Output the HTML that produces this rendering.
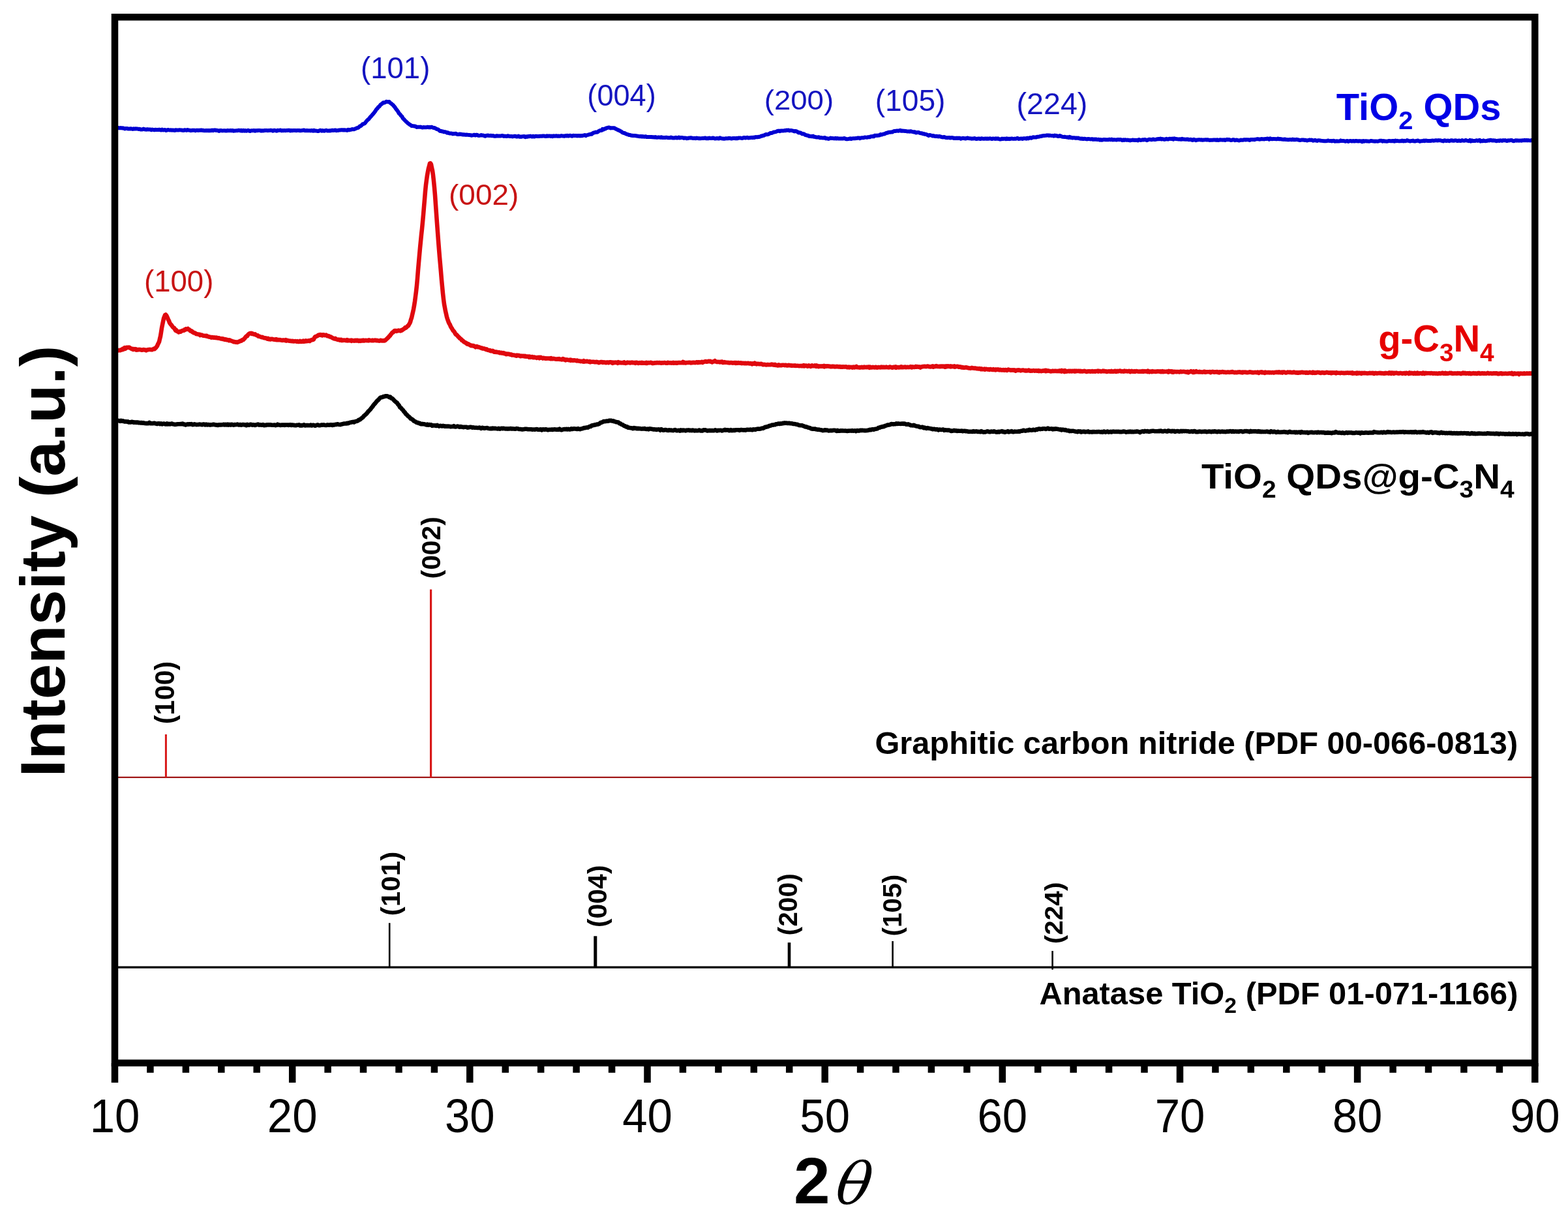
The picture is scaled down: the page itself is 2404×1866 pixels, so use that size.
<!DOCTYPE html>
<html><head><meta charset="utf-8"><title>XRD patterns</title>
<style>
html,body{margin:0;padding:0;background:#fff;}
body{width:2404px;height:1866px;overflow:hidden;}
svg{display:block;}
text{font-family:"Liberation Sans",Arial,sans-serif;}
</style></head>
<body>
<svg width="2404" height="1866" viewBox="0 0 2404 1866">
<rect width="2404" height="1866" fill="#fff"/>

<!-- data curves -->
<path d="M181.0,196.0 L182.5,196.2 L184.0,196.2 L185.5,196.1 L187.0,196.4 L188.5,196.3 L190.0,196.8 L191.5,197.4 L193.0,196.9 L194.5,196.9 L196.0,197.4 L197.5,197.5 L199.0,197.5 L200.5,197.2 L202.0,197.6 L203.5,197.9 L205.0,197.3 L206.5,197.7 L208.0,197.3 L209.5,197.6 L211.0,197.4 L212.5,198.1 L214.0,197.8 L215.5,198.4 L217.0,198.4 L218.5,198.4 L220.0,197.6 L221.5,198.3 L223.0,198.6 L224.5,198.7 L226.0,198.2 L227.5,198.6 L229.0,198.4 L230.5,198.5 L232.0,199.2 L233.5,198.6 L235.0,198.9 L236.5,199.3 L238.0,198.8 L239.5,199.0 L241.0,199.1 L242.5,199.1 L244.0,198.7 L245.5,199.2 L247.0,199.6 L248.5,198.6 L250.0,199.5 L251.5,199.3 L253.0,199.0 L254.5,200.0 L256.0,199.6 L257.5,198.9 L259.0,199.4 L260.5,199.6 L262.0,199.3 L263.5,199.7 L265.0,199.4 L266.5,199.7 L268.0,200.0 L269.5,199.3 L271.0,199.6 L272.5,199.4 L274.0,199.6 L275.5,199.2 L277.0,199.4 L278.5,199.5 L280.0,199.9 L281.5,200.0 L283.0,199.2 L284.5,199.4 L286.0,199.9 L287.5,199.0 L289.0,199.6 L290.6,199.7 L292.1,200.2 L293.6,200.0 L295.1,199.7 L296.6,199.7 L298.1,199.7 L299.6,200.4 L301.1,199.7 L302.6,199.7 L304.1,200.0 L305.6,199.8 L307.1,199.8 L308.6,199.5 L310.1,199.9 L311.6,199.8 L313.1,200.3 L314.6,200.2 L316.1,200.0 L317.6,200.2 L319.1,199.9 L320.6,200.4 L322.1,200.0 L323.6,200.2 L325.1,199.6 L326.6,200.2 L328.1,199.5 L329.6,199.4 L331.1,200.0 L332.6,199.8 L334.1,200.2 L335.6,200.9 L337.1,199.9 L338.6,200.0 L340.1,200.3 L341.6,200.4 L343.1,200.2 L344.6,200.2 L346.1,200.5 L347.6,200.5 L349.1,199.9 L350.6,200.3 L352.1,200.3 L353.6,200.0 L355.1,200.4 L356.6,200.0 L358.1,200.7 L359.6,200.4 L361.1,200.4 L362.6,200.2 L364.1,200.3 L365.6,199.7 L367.1,200.0 L368.6,200.5 L370.1,199.7 L371.6,200.7 L373.1,199.8 L374.6,200.7 L376.1,200.1 L377.6,200.7 L379.1,200.4 L380.6,199.8 L382.1,200.8 L383.6,200.9 L385.1,200.3 L386.6,200.3 L388.1,200.3 L389.6,200.0 L391.1,200.7 L392.6,200.1 L394.1,200.3 L395.6,200.0 L397.1,200.1 L398.6,199.9 L400.1,200.7 L401.6,200.2 L403.1,200.6 L404.6,200.3 L406.1,200.0 L407.6,200.1 L409.1,200.1 L410.6,200.2 L412.1,200.1 L413.6,200.1 L415.1,199.7 L416.6,199.9 L418.1,200.8 L419.6,200.0 L421.1,199.8 L422.6,200.3 L424.1,200.7 L425.6,199.7 L427.1,200.1 L428.6,199.9 L430.1,199.5 L431.6,200.4 L433.1,200.1 L434.6,200.2 L436.1,199.9 L437.6,200.3 L439.1,199.9 L440.6,200.0 L442.1,199.7 L443.6,199.7 L445.1,200.5 L446.6,199.9 L448.1,200.2 L449.6,200.0 L451.1,199.9 L452.6,199.9 L454.1,200.3 L455.6,199.9 L457.1,200.0 L458.6,200.0 L460.1,200.4 L461.6,200.2 L463.1,200.1 L464.6,199.8 L466.1,199.5 L467.6,200.3 L469.1,200.3 L470.6,200.0 L472.1,200.2 L473.6,200.3 L475.1,200.3 L476.6,200.4 L478.1,199.9 L479.6,200.7 L481.1,199.7 L482.6,200.5 L484.1,200.4 L485.6,200.6 L487.1,201.0 L488.6,200.9 L490.1,200.0 L491.6,199.8 L493.1,200.7 L494.6,200.1 L496.1,200.5 L497.6,200.8 L499.1,199.9 L500.6,199.8 L502.1,200.6 L503.6,200.5 L505.1,200.3 L506.7,200.4 L508.2,200.0 L509.7,199.7 L511.2,200.1 L512.7,199.8 L514.2,199.5 L515.7,200.2 L517.2,199.9 L518.7,200.0 L520.2,199.4 L521.7,199.5 L523.2,199.3 L524.7,199.3 L526.2,199.6 L527.7,199.2 L529.2,199.5 L530.7,199.5 L532.2,200.0 L533.7,198.7 L535.2,199.4 L536.7,198.9 L538.2,198.8 L539.7,198.1 L541.2,198.2 L542.7,198.3 L544.2,197.6 L545.7,197.0 L547.2,196.3 L548.7,196.1 L550.2,195.0 L551.7,193.5 L553.2,193.1 L554.7,191.7 L556.2,190.2 L557.7,189.9 L559.2,189.2 L560.7,187.3 L562.2,185.3 L563.7,183.8 L565.2,182.8 L566.7,180.8 L568.2,179.1 L569.7,177.4 L571.2,175.6 L572.7,174.0 L574.2,172.0 L575.7,169.9 L577.2,167.5 L578.7,166.2 L580.2,164.0 L581.7,163.1 L583.2,160.8 L584.7,159.8 L586.2,158.6 L587.7,157.2 L589.2,157.6 L590.7,156.9 L592.2,155.8 L593.7,156.1 L595.2,156.3 L596.7,155.9 L598.2,157.7 L599.7,158.6 L601.2,160.0 L602.7,161.2 L604.2,163.1 L605.7,164.8 L607.2,167.2 L608.7,169.0 L610.2,171.0 L611.7,173.7 L613.2,175.1 L614.7,177.2 L616.2,178.5 L617.7,181.3 L619.2,182.8 L620.7,184.5 L622.2,186.0 L623.7,187.4 L625.2,188.8 L626.7,189.9 L628.2,191.0 L629.7,191.9 L631.2,193.0 L632.7,193.1 L634.2,193.3 L635.7,193.5 L637.2,193.8 L638.7,194.9 L640.2,194.8 L641.7,194.8 L643.2,194.8 L644.7,194.6 L646.2,195.1 L647.7,195.5 L649.2,195.1 L650.7,195.2 L652.2,195.2 L653.7,195.3 L655.2,194.7 L656.7,195.2 L658.2,194.9 L659.7,195.4 L661.2,194.7 L662.7,195.2 L664.2,195.9 L665.7,195.9 L667.2,196.5 L668.7,197.5 L670.2,198.1 L671.7,198.4 L673.2,199.7 L674.7,201.0 L676.2,200.9 L677.7,201.5 L679.2,201.6 L680.7,202.4 L682.2,202.2 L683.7,202.6 L685.2,203.7 L686.7,203.2 L688.2,204.2 L689.7,204.6 L691.2,204.4 L692.7,204.7 L694.2,205.4 L695.7,204.9 L697.2,204.9 L698.7,204.8 L700.2,205.5 L701.7,206.1 L703.2,206.1 L704.7,205.6 L706.2,205.7 L707.7,206.0 L709.2,206.4 L710.7,206.3 L712.2,206.5 L713.7,206.7 L715.2,206.6 L716.7,206.7 L718.2,206.9 L719.7,206.9 L721.2,207.2 L722.8,207.7 L724.3,207.4 L725.8,207.2 L727.3,206.7 L728.8,207.5 L730.3,206.7 L731.8,207.0 L733.3,207.8 L734.8,207.9 L736.3,207.6 L737.8,207.1 L739.3,207.6 L740.8,207.6 L742.3,208.1 L743.8,208.7 L745.3,208.0 L746.8,207.7 L748.3,207.6 L749.8,208.1 L751.3,208.1 L752.8,207.8 L754.3,208.3 L755.8,207.9 L757.3,208.7 L758.8,208.7 L760.3,208.7 L761.8,208.2 L763.3,208.6 L764.8,208.4 L766.3,208.4 L767.8,208.4 L769.3,208.1 L770.8,208.1 L772.3,208.9 L773.8,208.6 L775.3,208.8 L776.8,209.1 L778.3,208.2 L779.8,208.6 L781.3,209.0 L782.8,209.1 L784.3,208.9 L785.8,209.4 L787.3,209.1 L788.8,208.7 L790.3,208.8 L791.8,209.5 L793.3,209.4 L794.8,208.6 L796.3,209.7 L797.8,209.5 L799.3,209.8 L800.8,209.2 L802.3,209.2 L803.8,208.9 L805.3,210.2 L806.8,209.2 L808.3,209.8 L809.8,209.0 L811.3,209.3 L812.8,208.6 L814.3,209.1 L815.8,209.5 L817.3,208.7 L818.8,209.5 L820.3,209.2 L821.8,208.7 L823.3,208.9 L824.8,208.9 L826.3,209.0 L827.8,208.8 L829.3,208.7 L830.8,208.8 L832.3,208.5 L833.8,208.4 L835.3,208.8 L836.8,209.1 L838.3,208.2 L839.8,208.8 L841.3,208.5 L842.8,208.4 L844.3,209.0 L845.8,208.5 L847.3,209.2 L848.8,208.3 L850.3,208.7 L851.8,208.5 L853.3,208.3 L854.8,208.8 L856.3,208.5 L857.8,208.7 L859.3,208.5 L860.8,208.1 L862.3,208.4 L863.8,208.5 L865.3,208.8 L866.8,208.1 L868.3,208.4 L869.8,207.8 L871.3,208.6 L872.8,208.0 L874.3,207.8 L875.8,208.4 L877.3,208.7 L878.8,207.8 L880.3,207.9 L881.8,208.0 L883.3,207.9 L884.8,208.4 L886.3,208.0 L887.8,208.0 L889.3,208.4 L890.8,207.9 L892.3,208.3 L893.8,207.7 L895.3,207.5 L896.8,207.1 L898.3,208.1 L899.8,207.1 L901.3,206.9 L902.8,206.4 L904.3,206.0 L905.8,205.5 L907.3,205.7 L908.8,204.2 L910.3,203.5 L911.8,203.2 L913.3,202.6 L914.8,202.8 L916.3,202.3 L917.8,201.1 L919.3,200.3 L920.8,200.0 L922.3,200.0 L923.8,197.9 L925.3,198.6 L926.8,197.4 L928.3,197.6 L929.8,196.3 L931.3,196.1 L932.8,195.4 L934.3,195.5 L935.8,196.4 L937.3,196.3 L938.8,196.2 L940.4,196.3 L941.9,196.3 L943.4,197.3 L944.9,198.0 L946.4,198.7 L947.9,199.5 L949.4,199.9 L950.9,200.9 L952.4,201.7 L953.9,202.9 L955.4,203.8 L956.9,203.9 L958.4,204.4 L959.9,205.4 L961.4,205.8 L962.9,206.3 L964.4,206.9 L965.9,206.9 L967.4,207.7 L968.9,207.7 L970.4,208.0 L971.9,208.1 L973.4,208.1 L974.9,208.2 L976.4,208.6 L977.9,208.7 L979.4,209.1 L980.9,209.2 L982.4,208.9 L983.9,209.5 L985.4,209.1 L986.9,209.5 L988.4,209.7 L989.9,209.2 L991.4,210.0 L992.9,210.1 L994.4,210.1 L995.9,210.0 L997.4,210.1 L998.9,210.0 L1000.4,210.3 L1001.9,210.2 L1003.4,210.5 L1004.9,210.1 L1006.4,210.7 L1007.9,210.7 L1009.4,210.6 L1010.9,210.6 L1012.4,210.9 L1013.9,210.2 L1015.4,211.0 L1016.9,211.0 L1018.4,211.0 L1019.9,211.1 L1021.4,210.7 L1022.9,210.9 L1024.4,211.3 L1025.9,211.2 L1027.4,211.2 L1028.9,210.6 L1030.4,211.3 L1031.9,211.6 L1033.4,211.6 L1034.9,211.3 L1036.4,210.7 L1037.9,211.6 L1039.4,211.3 L1040.9,210.5 L1042.4,211.5 L1043.9,210.9 L1045.4,211.0 L1046.9,211.2 L1048.4,211.9 L1049.9,211.4 L1051.4,211.6 L1052.9,212.2 L1054.4,212.1 L1055.9,211.6 L1057.4,211.6 L1058.9,211.2 L1060.4,211.5 L1061.9,211.9 L1063.4,211.9 L1064.9,211.8 L1066.4,212.2 L1067.9,211.6 L1069.4,211.8 L1070.9,212.2 L1072.4,212.1 L1073.9,212.3 L1075.4,212.1 L1076.9,211.9 L1078.4,212.1 L1079.9,211.7 L1081.4,211.5 L1082.9,212.3 L1084.4,212.1 L1085.9,212.2 L1087.4,211.5 L1088.9,212.0 L1090.4,212.0 L1091.9,211.9 L1093.4,211.4 L1094.9,212.1 L1096.4,212.5 L1097.9,212.3 L1099.4,212.0 L1100.9,212.2 L1102.4,212.5 L1103.9,211.2 L1105.4,212.1 L1106.9,212.4 L1108.4,212.4 L1109.9,212.7 L1111.4,212.5 L1112.9,212.2 L1114.4,212.2 L1115.9,212.3 L1117.4,211.8 L1118.9,212.0 L1120.4,212.3 L1121.9,212.6 L1123.4,211.9 L1124.9,211.9 L1126.4,211.9 L1127.9,212.3 L1129.4,211.8 L1130.9,212.3 L1132.4,211.4 L1133.9,211.6 L1135.4,211.6 L1136.9,211.9 L1138.4,211.9 L1139.9,211.0 L1141.4,211.1 L1142.9,211.5 L1144.4,211.1 L1145.9,210.8 L1147.4,211.6 L1148.9,211.3 L1150.4,211.2 L1151.9,210.8 L1153.4,211.2 L1154.9,210.7 L1156.5,211.0 L1158.0,210.2 L1159.5,210.1 L1161.0,210.3 L1162.5,209.8 L1164.0,210.0 L1165.5,209.5 L1167.0,208.6 L1168.5,208.5 L1170.0,207.8 L1171.5,207.7 L1173.0,206.6 L1174.5,206.1 L1176.0,206.2 L1177.5,206.0 L1179.0,205.4 L1180.5,204.3 L1182.0,204.0 L1183.5,204.0 L1185.0,203.1 L1186.5,202.4 L1188.0,202.4 L1189.5,202.1 L1191.0,201.4 L1192.5,200.8 L1194.0,200.6 L1195.5,201.2 L1197.0,200.5 L1198.5,200.5 L1200.0,200.5 L1201.5,200.5 L1203.0,200.0 L1204.5,200.2 L1206.0,199.6 L1207.5,199.8 L1209.0,199.5 L1210.5,200.4 L1212.0,200.1 L1213.5,200.1 L1215.0,200.4 L1216.5,200.8 L1218.0,201.4 L1219.5,200.9 L1221.0,201.4 L1222.5,202.0 L1224.0,203.4 L1225.5,203.3 L1227.0,203.4 L1228.5,204.3 L1230.0,205.4 L1231.5,205.2 L1233.0,205.7 L1234.5,206.9 L1236.0,207.2 L1237.5,207.7 L1239.0,207.7 L1240.5,208.9 L1242.0,209.1 L1243.5,209.0 L1245.0,209.3 L1246.5,208.6 L1248.0,209.8 L1249.5,209.8 L1251.0,210.3 L1252.5,210.6 L1254.0,210.5 L1255.5,210.2 L1257.0,211.2 L1258.5,211.0 L1260.0,211.3 L1261.5,211.4 L1263.0,211.6 L1264.5,211.0 L1266.0,212.4 L1267.5,212.1 L1269.0,212.5 L1270.5,212.9 L1272.0,212.2 L1273.5,211.6 L1275.0,212.0 L1276.5,211.9 L1278.0,212.2 L1279.5,212.4 L1281.0,211.7 L1282.5,212.6 L1284.0,211.9 L1285.5,212.6 L1287.0,212.5 L1288.5,212.4 L1290.0,212.5 L1291.5,212.4 L1293.0,212.4 L1294.5,212.0 L1296.0,212.6 L1297.5,213.2 L1299.0,213.3 L1300.5,213.1 L1302.0,212.8 L1303.5,212.3 L1305.0,213.0 L1306.5,212.4 L1308.0,212.3 L1309.5,212.2 L1311.0,212.2 L1312.5,211.9 L1314.0,211.9 L1315.5,211.4 L1317.0,211.5 L1318.5,212.3 L1320.0,211.4 L1321.5,211.2 L1323.0,211.3 L1324.5,211.2 L1326.0,210.4 L1327.5,210.6 L1329.0,210.8 L1330.5,210.3 L1332.0,210.1 L1333.5,210.3 L1335.0,209.3 L1336.5,209.3 L1338.0,208.9 L1339.5,209.3 L1341.0,207.8 L1342.5,208.0 L1344.0,207.7 L1345.5,207.9 L1347.0,207.5 L1348.5,207.5 L1350.0,206.1 L1351.5,206.6 L1353.0,206.0 L1354.5,205.5 L1356.0,205.5 L1357.5,204.6 L1359.0,203.7 L1360.5,203.8 L1362.0,203.0 L1363.5,202.8 L1365.0,202.8 L1366.5,202.4 L1368.0,202.5 L1369.5,201.7 L1371.0,200.9 L1372.5,201.0 L1374.1,200.7 L1375.6,200.4 L1377.1,200.8 L1378.6,200.3 L1380.1,199.8 L1381.6,200.8 L1383.1,200.5 L1384.6,200.8 L1386.1,200.8 L1387.6,201.1 L1389.1,201.0 L1390.6,201.5 L1392.1,201.4 L1393.6,201.5 L1395.1,201.7 L1396.6,201.2 L1398.1,201.9 L1399.6,202.1 L1401.1,202.5 L1402.6,202.2 L1404.1,203.5 L1405.6,203.2 L1407.1,203.0 L1408.6,203.1 L1410.1,203.9 L1411.6,204.2 L1413.1,204.3 L1414.6,205.0 L1416.1,205.0 L1417.6,205.8 L1419.1,205.7 L1420.6,206.3 L1422.1,207.0 L1423.6,207.9 L1425.1,206.9 L1426.6,207.4 L1428.1,207.6 L1429.6,208.5 L1431.1,208.1 L1432.6,208.6 L1434.1,209.0 L1435.6,208.8 L1437.1,209.0 L1438.6,209.4 L1440.1,209.0 L1441.6,209.4 L1443.1,209.9 L1444.6,210.3 L1446.1,210.4 L1447.6,210.0 L1449.1,210.6 L1450.6,211.1 L1452.1,211.2 L1453.6,211.1 L1455.1,210.9 L1456.6,211.5 L1458.1,211.2 L1459.6,211.1 L1461.1,211.3 L1462.6,212.1 L1464.1,211.7 L1465.6,212.1 L1467.1,211.6 L1468.6,212.1 L1470.1,211.6 L1471.6,211.8 L1473.1,212.8 L1474.6,212.2 L1476.1,211.8 L1477.6,212.0 L1479.1,212.2 L1480.6,212.5 L1482.1,211.9 L1483.6,211.5 L1485.1,212.1 L1486.6,212.2 L1488.1,212.3 L1489.6,212.7 L1491.1,212.4 L1492.6,212.6 L1494.1,211.9 L1495.6,212.6 L1497.1,213.1 L1498.6,212.7 L1500.1,212.5 L1501.6,212.5 L1503.1,213.1 L1504.6,212.2 L1506.1,212.5 L1507.6,212.7 L1509.1,212.8 L1510.6,212.4 L1512.1,212.7 L1513.6,212.5 L1515.1,212.7 L1516.6,212.6 L1518.1,212.3 L1519.6,212.7 L1521.1,213.0 L1522.6,212.4 L1524.1,212.6 L1525.6,212.9 L1527.1,212.3 L1528.6,212.8 L1530.1,212.3 L1531.6,213.1 L1533.1,213.5 L1534.6,213.4 L1536.1,212.6 L1537.6,213.0 L1539.1,212.8 L1540.6,212.7 L1542.1,213.2 L1543.6,212.2 L1545.1,213.1 L1546.6,212.7 L1548.1,213.2 L1549.6,212.7 L1551.1,212.4 L1552.6,212.7 L1554.1,212.9 L1555.6,212.6 L1557.1,212.8 L1558.6,212.4 L1560.1,211.8 L1561.6,212.9 L1563.1,212.8 L1564.6,212.6 L1566.1,212.5 L1567.6,212.9 L1569.1,212.3 L1570.6,212.2 L1572.1,212.3 L1573.6,212.7 L1575.1,211.6 L1576.6,212.4 L1578.1,211.5 L1579.6,211.1 L1581.1,211.7 L1582.6,211.0 L1584.1,210.3 L1585.6,210.4 L1587.1,210.6 L1588.6,210.5 L1590.2,209.7 L1591.7,209.8 L1593.2,209.6 L1594.7,208.9 L1596.2,208.9 L1597.7,208.5 L1599.2,208.1 L1600.7,207.9 L1602.2,207.9 L1603.7,207.7 L1605.2,207.4 L1606.7,207.4 L1608.2,207.9 L1609.7,207.6 L1611.2,207.9 L1612.7,208.1 L1614.2,207.9 L1615.7,208.6 L1617.2,207.6 L1618.7,208.3 L1620.2,208.0 L1621.7,208.9 L1623.2,209.0 L1624.7,208.0 L1626.2,208.6 L1627.7,209.4 L1629.2,209.7 L1630.7,209.9 L1632.2,209.8 L1633.7,210.1 L1635.2,210.4 L1636.7,210.3 L1638.2,210.9 L1639.7,209.9 L1641.2,211.1 L1642.7,210.7 L1644.2,211.6 L1645.7,211.3 L1647.2,211.2 L1648.7,211.8 L1650.2,211.5 L1651.7,211.7 L1653.2,211.6 L1654.7,212.2 L1656.2,212.5 L1657.7,212.8 L1659.2,212.5 L1660.7,213.1 L1662.2,212.8 L1663.7,212.8 L1665.2,213.2 L1666.7,213.4 L1668.2,213.0 L1669.7,213.1 L1671.2,213.3 L1672.7,213.4 L1674.2,213.1 L1675.7,213.9 L1677.2,213.5 L1678.7,213.8 L1680.2,213.5 L1681.7,213.9 L1683.2,214.0 L1684.7,213.8 L1686.2,214.7 L1687.7,214.1 L1689.2,214.7 L1690.7,214.4 L1692.2,213.9 L1693.7,214.0 L1695.2,214.3 L1696.7,214.2 L1698.2,214.3 L1699.7,214.2 L1701.2,213.7 L1702.7,214.3 L1704.2,213.6 L1705.7,214.5 L1707.2,214.2 L1708.7,214.2 L1710.2,214.4 L1711.7,214.6 L1713.2,214.0 L1714.7,214.0 L1716.2,214.2 L1717.7,213.9 L1719.2,214.3 L1720.7,215.2 L1722.2,214.3 L1723.7,214.9 L1725.2,214.2 L1726.7,214.8 L1728.2,214.6 L1729.7,214.7 L1731.2,215.0 L1732.7,215.4 L1734.2,214.9 L1735.7,214.8 L1737.2,214.5 L1738.7,215.0 L1740.2,214.7 L1741.7,215.1 L1743.2,214.8 L1744.7,215.4 L1746.2,214.0 L1747.7,214.6 L1749.2,215.0 L1750.7,214.5 L1752.2,214.3 L1753.7,214.4 L1755.2,214.0 L1756.7,214.4 L1758.2,215.2 L1759.7,214.7 L1761.2,213.8 L1762.7,213.8 L1764.2,213.9 L1765.7,214.3 L1767.2,213.6 L1768.7,213.6 L1770.2,214.1 L1771.7,214.0 L1773.2,213.5 L1774.7,213.2 L1776.2,213.0 L1777.7,213.2 L1779.2,212.6 L1780.7,213.6 L1782.2,213.1 L1783.7,213.4 L1785.2,213.9 L1786.7,213.6 L1788.2,212.7 L1789.7,213.4 L1791.2,213.5 L1792.7,212.8 L1794.2,212.8 L1795.7,213.1 L1797.2,212.6 L1798.7,213.7 L1800.2,212.3 L1801.7,212.8 L1803.2,213.1 L1804.7,213.2 L1806.2,213.4 L1807.8,213.4 L1809.3,213.3 L1810.8,213.8 L1812.3,212.7 L1813.8,213.6 L1815.3,213.4 L1816.8,213.7 L1818.3,213.8 L1819.8,213.5 L1821.3,213.6 L1822.8,214.2 L1824.3,214.1 L1825.8,213.8 L1827.3,214.8 L1828.8,214.9 L1830.3,213.7 L1831.8,214.3 L1833.3,215.2 L1834.8,214.6 L1836.3,214.5 L1837.8,214.3 L1839.3,214.3 L1840.8,214.4 L1842.3,214.3 L1843.8,214.8 L1845.3,214.4 L1846.8,214.4 L1848.3,214.2 L1849.8,214.6 L1851.3,214.3 L1852.8,214.5 L1854.3,215.0 L1855.8,214.7 L1857.3,214.8 L1858.8,214.7 L1860.3,214.6 L1861.8,214.6 L1863.3,214.5 L1864.8,214.9 L1866.3,214.2 L1867.8,215.1 L1869.3,214.6 L1870.8,214.3 L1872.3,214.4 L1873.8,214.4 L1875.3,214.7 L1876.8,214.3 L1878.3,215.0 L1879.8,214.3 L1881.3,213.8 L1882.8,214.3 L1884.3,213.9 L1885.8,214.6 L1887.3,215.0 L1888.8,214.8 L1890.3,214.1 L1891.8,214.3 L1893.3,215.2 L1894.8,214.7 L1896.3,214.6 L1897.8,215.0 L1899.3,215.5 L1900.8,215.1 L1902.3,214.6 L1903.8,214.7 L1905.3,214.8 L1906.8,214.3 L1908.3,214.1 L1909.8,214.5 L1911.3,214.1 L1912.8,214.3 L1914.3,214.3 L1915.8,215.0 L1917.3,213.9 L1918.8,214.0 L1920.3,214.0 L1921.8,214.1 L1923.3,214.2 L1924.8,213.6 L1926.3,213.4 L1927.8,213.1 L1929.3,213.3 L1930.8,213.7 L1932.3,213.5 L1933.8,213.0 L1935.3,213.2 L1936.8,213.3 L1938.3,213.4 L1939.8,213.0 L1941.3,213.1 L1942.8,212.5 L1944.3,212.7 L1945.8,213.7 L1947.3,212.3 L1948.8,213.0 L1950.3,213.2 L1951.8,213.0 L1953.3,212.9 L1954.8,213.1 L1956.3,213.2 L1957.8,213.2 L1959.3,212.6 L1960.8,213.2 L1962.3,213.0 L1963.8,213.2 L1965.3,213.5 L1966.8,213.7 L1968.3,213.9 L1969.8,213.4 L1971.3,214.0 L1972.8,214.1 L1974.3,214.2 L1975.8,214.3 L1977.3,213.9 L1978.8,213.9 L1980.3,214.3 L1981.8,213.6 L1983.3,214.2 L1984.8,214.1 L1986.3,214.2 L1987.8,213.8 L1989.3,214.1 L1990.8,214.5 L1992.3,214.9 L1993.8,214.9 L1995.3,214.6 L1996.8,214.6 L1998.3,214.5 L1999.8,214.9 L2001.3,214.8 L2002.8,215.1 L2004.3,215.5 L2005.8,215.0 L2007.3,214.5 L2008.8,214.8 L2010.3,214.6 L2011.8,214.7 L2013.3,215.7 L2014.8,215.3 L2016.3,214.8 L2017.8,215.6 L2019.3,215.9 L2020.8,215.3 L2022.3,215.3 L2023.9,215.4 L2025.4,215.7 L2026.9,215.9 L2028.4,216.1 L2029.9,216.2 L2031.4,216.2 L2032.9,216.3 L2034.4,216.1 L2035.9,215.4 L2037.4,215.9 L2038.9,216.1 L2040.4,215.9 L2041.9,216.4 L2043.4,216.0 L2044.9,215.8 L2046.4,216.7 L2047.9,216.4 L2049.4,216.3 L2050.9,216.6 L2052.4,216.6 L2053.9,216.4 L2055.4,215.4 L2056.9,216.1 L2058.4,216.1 L2059.9,216.0 L2061.4,216.4 L2062.9,216.7 L2064.4,216.1 L2065.9,215.9 L2067.4,217.0 L2068.9,216.1 L2070.4,215.9 L2071.9,216.4 L2073.4,216.4 L2074.9,216.0 L2076.4,216.6 L2077.9,216.1 L2079.4,216.0 L2080.9,216.3 L2082.4,216.6 L2083.9,216.1 L2085.4,216.4 L2086.9,216.2 L2088.4,217.3 L2089.9,216.0 L2091.4,216.8 L2092.9,216.2 L2094.4,216.2 L2095.9,216.5 L2097.4,216.6 L2098.9,216.7 L2100.4,216.4 L2101.9,216.0 L2103.4,216.1 L2104.9,216.4 L2106.4,216.4 L2107.9,216.7 L2109.4,216.4 L2110.9,216.6 L2112.4,216.7 L2113.9,216.3 L2115.4,215.7 L2116.9,215.8 L2118.4,215.7 L2119.9,216.8 L2121.4,215.9 L2122.9,216.6 L2124.4,216.4 L2125.9,216.8 L2127.4,216.5 L2128.9,216.1 L2130.4,216.1 L2131.9,216.2 L2133.4,216.2 L2134.9,216.0 L2136.4,216.1 L2137.9,216.7 L2139.4,215.5 L2140.9,216.2 L2142.4,215.8 L2143.9,216.2 L2145.4,216.4 L2146.9,216.1 L2148.4,216.3 L2149.9,215.5 L2151.4,216.4 L2152.9,215.8 L2154.4,216.3 L2155.9,216.1 L2157.4,215.1 L2158.9,215.8 L2160.4,216.1 L2161.9,216.5 L2163.4,216.1 L2164.9,216.1 L2166.4,215.5 L2167.9,216.5 L2169.4,216.6 L2170.9,216.0 L2172.4,215.9 L2173.9,215.4 L2175.4,216.2 L2176.9,216.9 L2178.4,216.2 L2179.9,216.3 L2181.4,216.1 L2182.9,215.5 L2184.4,216.3 L2185.9,215.4 L2187.4,215.8 L2188.9,215.9 L2190.4,216.1 L2191.9,216.0 L2193.4,216.0 L2194.9,215.6 L2196.4,215.4 L2197.9,215.8 L2199.4,215.6 L2200.9,215.3 L2202.4,215.3 L2203.9,215.6 L2205.4,215.1 L2206.9,215.3 L2208.4,215.2 L2209.9,215.8 L2211.4,215.9 L2212.9,216.5 L2214.4,215.2 L2215.9,215.5 L2217.4,216.1 L2218.9,215.7 L2220.4,215.6 L2221.9,216.3 L2223.4,215.6 L2224.9,215.3 L2226.4,215.3 L2227.9,215.8 L2229.4,215.8 L2230.9,215.2 L2232.4,215.4 L2233.9,215.9 L2235.4,215.9 L2236.9,215.5 L2238.4,215.9 L2240.0,215.9 L2241.5,215.1 L2243.0,215.6 L2244.5,215.8 L2246.0,215.5 L2247.5,214.9 L2249.0,215.6 L2250.5,215.9 L2252.0,216.2 L2253.5,214.9 L2255.0,216.6 L2256.5,215.3 L2258.0,216.0 L2259.5,216.1 L2261.0,216.0 L2262.5,215.7 L2264.0,215.2 L2265.5,215.9 L2267.0,215.4 L2268.5,214.7 L2270.0,216.6 L2271.5,215.9 L2273.0,216.3 L2274.5,215.3 L2276.0,216.1 L2277.5,216.2 L2279.0,216.1 L2280.5,215.6 L2282.0,215.2 L2283.5,215.5 L2285.0,214.8 L2286.5,215.0 L2288.0,215.6 L2289.5,215.2 L2291.0,215.5 L2292.5,215.5 L2294.0,216.2 L2295.5,216.0 L2297.0,215.5 L2298.5,216.0 L2300.0,215.3 L2301.5,215.4 L2303.0,215.9 L2304.5,215.1 L2306.0,215.4 L2307.5,215.1 L2309.0,215.6 L2310.5,216.1 L2312.0,215.2 L2313.5,215.6 L2315.0,215.2 L2316.5,215.1 L2318.0,215.1 L2319.5,216.0 L2321.0,216.3 L2322.5,215.6 L2324.0,215.2 L2325.5,215.7 L2327.0,215.3 L2328.5,215.7 L2330.0,215.6 L2331.5,215.5 L2333.0,215.7 L2334.5,215.2 L2336.0,215.3 L2337.5,214.8 L2339.0,215.3 L2340.5,214.9 L2342.0,215.4 L2343.5,215.1 L2345.0,215.4 L2346.5,215.6 L2348.0,214.9" fill="none" stroke="#0000d2" stroke-width="6.0" stroke-linejoin="round" stroke-linecap="round"/>
<path d="M181.0,537.3 L182.0,537.0 L183.0,537.3 L184.0,537.3 L185.0,536.7 L186.0,536.0 L187.0,536.3 L188.0,535.0 L189.0,535.7 L190.0,534.5 L191.0,533.3 L192.0,534.8 L193.0,534.0 L194.0,532.7 L195.0,532.9 L196.0,532.7 L197.0,532.9 L198.0,532.6 L199.0,533.2 L200.0,534.0 L201.0,534.3 L202.0,535.0 L203.0,534.8 L204.0,535.8 L205.0,535.0 L206.0,535.6 L207.0,535.0 L208.0,535.4 L209.0,536.5 L210.0,535.8 L211.0,536.4 L212.0,536.2 L213.0,535.9 L214.0,536.2 L215.0,536.1 L216.0,536.2 L217.0,536.6 L218.0,536.6 L219.0,536.2 L220.0,536.1 L221.0,536.5 L222.0,536.4 L223.0,536.8 L224.0,537.3 L225.0,536.7 L226.0,536.4 L227.0,536.3 L228.0,536.0 L229.0,536.0 L230.0,535.9 L231.0,536.1 L232.0,536.0 L233.0,536.3 L234.0,535.7 L235.0,535.4 L236.0,534.6 L237.0,535.1 L238.0,533.9 L239.0,533.3 L240.0,531.7 L241.0,530.4 L242.0,527.9 L243.0,526.1 L244.0,524.1 L245.0,519.6 L246.0,515.6 L247.0,509.5 L248.0,502.9 L249.0,497.9 L250.0,493.1 L251.0,488.3 L252.0,485.8 L253.0,483.1 L254.0,482.5 L255.0,483.5 L256.0,485.5 L257.0,487.6 L258.0,490.2 L259.0,491.9 L260.0,494.9 L261.0,496.3 L262.0,497.7 L263.0,498.7 L264.0,500.1 L265.0,501.5 L266.0,502.5 L267.0,502.8 L268.0,504.7 L269.0,506.5 L270.0,505.8 L271.0,507.7 L272.0,508.1 L273.0,508.5 L274.0,509.3 L275.0,508.3 L276.0,508.6 L277.0,508.7 L278.0,507.7 L279.0,507.2 L280.0,507.0 L281.0,506.5 L282.0,506.7 L283.0,505.4 L284.0,505.6 L285.0,504.4 L286.0,504.9 L287.0,504.6 L288.0,503.9 L289.0,505.2 L290.0,505.3 L291.0,506.2 L292.0,507.5 L293.0,507.1 L294.0,507.6 L295.0,509.1 L296.0,509.2 L297.0,510.3 L298.0,510.5 L299.0,510.6 L300.0,511.3 L301.0,512.1 L302.0,512.3 L303.0,512.3 L304.0,512.6 L305.0,512.8 L306.0,512.9 L307.0,514.1 L308.0,513.6 L309.0,513.5 L310.0,513.9 L311.0,514.6 L312.0,514.8 L313.0,514.7 L314.0,514.7 L315.0,515.1 L316.0,514.7 L317.0,515.0 L318.0,516.0 L319.0,515.7 L320.0,516.2 L321.0,516.7 L322.0,516.7 L323.0,516.7 L324.0,517.6 L325.0,517.3 L326.0,517.1 L327.0,517.7 L328.0,517.7 L329.0,517.4 L330.0,517.9 L331.0,518.0 L332.0,517.5 L333.0,518.3 L334.0,518.4 L335.0,518.5 L336.0,518.3 L337.0,518.9 L338.0,519.2 L339.0,519.4 L340.0,519.1 L341.0,519.9 L342.0,519.4 L343.0,519.9 L344.0,520.7 L345.0,520.1 L346.0,520.4 L347.0,521.2 L348.0,520.8 L349.0,521.1 L350.0,521.5 L351.0,522.1 L352.0,521.3 L353.0,522.1 L354.0,522.4 L355.0,522.7 L356.0,523.1 L357.0,523.4 L358.0,524.1 L359.0,523.9 L360.0,524.4 L361.0,524.7 L362.0,524.3 L363.0,524.6 L364.0,525.0 L365.0,524.4 L366.0,523.7 L367.0,523.6 L368.0,522.9 L369.0,522.9 L370.0,522.6 L371.0,521.4 L372.0,521.1 L373.0,521.0 L374.0,519.7 L375.0,519.0 L376.0,517.4 L377.0,516.3 L378.0,515.3 L379.0,515.3 L380.0,513.5 L381.0,512.5 L382.0,511.6 L383.0,511.1 L384.0,511.1 L385.0,510.9 L386.0,511.8 L387.0,511.4 L388.0,512.2 L389.0,512.2 L390.0,512.7 L391.0,512.4 L392.0,513.4 L393.0,513.9 L394.0,514.4 L395.0,514.2 L396.0,515.7 L397.0,515.6 L398.0,515.9 L399.0,516.3 L400.0,516.6 L401.0,517.1 L402.0,516.8 L403.0,517.2 L404.0,517.9 L405.0,518.1 L406.0,518.2 L407.0,518.4 L408.0,518.5 L409.0,519.0 L410.0,519.6 L411.0,519.0 L412.0,520.1 L413.0,520.1 L414.0,519.8 L415.0,520.4 L416.0,519.7 L417.0,519.8 L418.0,520.0 L419.0,520.4 L420.0,520.6 L421.0,520.6 L422.0,520.9 L423.0,520.2 L424.0,521.2 L425.0,520.7 L426.0,521.0 L427.0,521.2 L428.0,521.0 L429.0,521.0 L430.0,521.2 L431.0,521.6 L432.0,521.8 L433.0,521.9 L434.0,521.4 L435.0,521.6 L436.0,521.6 L437.0,522.1 L438.0,521.3 L439.0,522.5 L440.0,522.0 L441.0,521.9 L442.0,522.4 L443.0,522.7 L444.0,522.6 L445.0,522.9 L446.0,522.7 L447.0,523.1 L448.0,523.3 L449.0,522.9 L450.0,523.5 L451.0,523.2 L452.0,523.3 L453.0,523.1 L454.0,523.4 L455.0,523.8 L456.0,523.2 L457.0,523.9 L458.0,523.9 L459.0,523.9 L460.0,523.0 L461.0,523.8 L462.0,524.0 L463.0,523.4 L464.0,523.7 L465.0,522.7 L466.0,523.7 L467.0,523.1 L468.0,523.5 L469.0,522.5 L470.0,523.2 L471.0,522.8 L472.0,523.0 L473.0,522.3 L474.0,522.2 L475.0,523.0 L476.0,521.7 L477.0,521.5 L478.0,521.3 L479.0,520.7 L480.0,520.9 L481.0,520.1 L482.0,518.0 L483.0,516.4 L484.0,516.4 L485.0,515.7 L486.0,515.2 L487.0,514.9 L488.0,513.9 L489.0,513.8 L490.0,513.2 L491.0,513.1 L492.0,513.9 L493.0,513.3 L494.0,514.3 L495.0,513.5 L496.0,513.3 L497.0,513.8 L498.0,514.2 L499.0,513.9 L500.0,513.6 L501.0,514.5 L502.0,515.2 L503.0,515.0 L504.0,515.2 L505.0,516.2 L506.0,516.4 L507.0,516.4 L508.0,517.1 L509.0,517.5 L510.0,518.3 L511.0,518.6 L512.0,519.3 L513.0,519.5 L514.0,518.9 L515.0,519.9 L516.0,520.3 L517.0,520.5 L518.0,520.9 L519.0,520.6 L520.0,520.7 L521.0,521.6 L522.0,521.0 L523.0,520.8 L524.0,522.1 L525.0,521.6 L526.0,521.9 L527.0,521.6 L528.0,521.6 L529.0,521.7 L530.0,522.0 L531.0,522.2 L532.0,521.3 L533.0,522.4 L534.0,521.7 L535.0,521.7 L536.0,522.3 L537.0,522.1 L538.0,521.6 L539.0,522.7 L540.0,521.8 L541.0,522.2 L542.0,522.2 L543.0,522.6 L544.0,521.9 L545.0,522.5 L546.0,521.8 L547.0,522.5 L548.0,521.8 L549.0,522.0 L550.0,522.8 L551.0,522.2 L552.0,522.1 L553.0,522.9 L554.0,522.2 L555.0,521.8 L556.0,522.4 L557.0,521.7 L558.0,522.5 L559.0,522.5 L560.0,521.9 L561.0,521.9 L562.0,522.2 L563.0,522.1 L564.0,521.8 L565.0,522.3 L566.0,521.4 L567.0,521.9 L568.0,522.0 L569.0,522.0 L570.0,522.2 L571.0,521.7 L572.0,522.3 L573.0,522.0 L574.0,521.9 L575.0,521.6 L576.0,521.7 L577.0,522.2 L578.0,521.8 L579.0,522.1 L580.0,522.5 L581.0,522.5 L582.0,522.6 L583.0,522.0 L584.0,521.7 L585.0,522.5 L586.0,522.2 L587.0,522.5 L588.0,522.1 L589.0,522.5 L590.0,522.2 L591.0,521.5 L592.0,520.5 L593.0,519.6 L594.0,518.7 L595.0,517.7 L596.0,516.8 L597.0,515.2 L598.0,514.8 L599.0,512.9 L600.0,512.0 L601.0,510.4 L602.0,509.5 L603.0,509.4 L604.0,507.9 L605.0,507.0 L606.0,507.0 L607.0,507.0 L608.0,507.8 L609.0,507.1 L610.0,507.3 L611.0,506.6 L612.0,507.0 L613.0,507.1 L614.0,507.4 L615.0,506.4 L616.0,506.6 L617.0,506.0 L618.0,504.9 L619.0,504.6 L620.0,503.7 L621.0,502.4 L622.0,502.8 L623.0,502.1 L624.0,501.0 L625.0,499.7 L626.0,499.5 L627.0,497.5 L628.0,496.0 L629.0,493.8 L630.0,490.2 L631.0,487.4 L632.0,483.0 L633.0,478.8 L634.0,474.2 L635.0,468.6 L636.0,462.2 L637.0,454.6 L638.0,446.9 L639.0,437.9 L640.0,426.8 L641.0,414.0 L642.0,402.5 L643.0,391.2 L644.0,380.2 L645.0,370.1 L646.0,359.9 L647.0,351.0 L648.0,340.6 L649.0,329.5 L650.0,317.4 L651.0,305.9 L652.0,293.6 L653.0,283.5 L654.0,275.8 L655.0,268.8 L656.0,263.3 L657.0,258.2 L658.0,254.7 L659.0,250.5 L660.0,250.4 L661.0,252.2 L662.0,257.4 L663.0,261.5 L664.0,268.5 L665.0,277.5 L666.0,287.6 L667.0,299.4 L668.0,313.8 L669.0,327.9 L670.0,341.9 L671.0,355.5 L672.0,368.9 L673.0,381.7 L674.0,393.9 L675.0,405.2 L676.0,416.8 L677.0,428.8 L678.0,439.2 L679.0,449.8 L680.0,458.7 L681.0,466.4 L682.0,471.7 L683.0,477.1 L684.0,481.3 L685.0,485.9 L686.0,489.1 L687.0,491.8 L688.0,494.5 L689.0,496.5 L690.0,498.1 L691.0,500.7 L692.0,502.3 L693.0,503.8 L694.0,505.7 L695.0,507.3 L696.0,508.0 L697.0,509.5 L698.0,511.6 L699.0,512.8 L700.0,513.3 L701.0,514.3 L702.0,515.6 L703.0,516.7 L704.0,517.3 L705.0,518.8 L706.0,519.2 L707.0,520.1 L708.0,521.7 L709.0,521.9 L710.0,522.9 L711.0,523.9 L712.0,524.7 L713.0,525.0 L714.0,525.7 L715.0,526.0 L716.0,527.5 L717.0,527.6 L718.0,527.4 L719.0,528.2 L720.0,528.9 L721.0,529.1 L722.0,529.9 L723.0,530.1 L724.0,529.7 L725.0,530.2 L726.0,530.0 L727.0,530.8 L728.0,531.0 L729.0,532.2 L730.0,531.5 L731.0,531.0 L732.0,531.7 L733.0,532.3 L734.0,532.1 L735.0,532.5 L736.0,532.9 L737.0,533.5 L738.0,533.6 L739.0,533.6 L740.0,534.5 L741.0,534.3 L742.0,534.6 L743.0,534.6 L744.0,535.1 L745.0,535.9 L746.0,535.4 L747.0,536.2 L748.0,536.8 L749.0,536.7 L750.0,537.2 L751.0,537.0 L752.0,538.1 L753.0,538.3 L754.0,538.2 L755.0,537.8 L756.0,538.3 L757.0,539.2 L758.0,539.7 L759.0,539.4 L760.0,539.9 L761.0,539.5 L762.0,539.8 L763.0,540.1 L764.0,540.4 L765.0,540.0 L766.0,541.0 L767.0,541.3 L768.0,540.7 L769.0,540.8 L770.0,541.6 L771.0,541.4 L772.0,541.0 L773.0,542.2 L774.0,542.2 L775.0,542.1 L776.0,543.2 L777.0,542.7 L778.0,542.6 L779.0,543.0 L780.0,542.8 L781.0,543.0 L782.0,543.6 L783.0,543.4 L784.0,543.6 L785.0,544.5 L786.0,544.4 L787.0,544.5 L788.0,544.5 L789.0,544.7 L790.0,545.1 L791.0,544.8 L792.0,545.6 L793.0,544.7 L794.0,545.1 L795.0,544.8 L796.0,545.3 L797.0,545.7 L798.0,546.2 L799.0,545.5 L800.0,545.9 L801.0,545.9 L802.0,545.9 L803.0,545.8 L804.0,546.4 L805.0,545.8 L806.0,546.6 L807.0,546.7 L808.0,546.5 L809.0,546.5 L810.0,546.5 L811.0,547.7 L812.0,546.7 L813.0,547.8 L814.0,547.5 L815.0,547.3 L816.0,547.1 L817.0,548.0 L818.0,548.3 L819.0,547.5 L820.0,547.8 L821.0,548.3 L822.0,548.2 L823.0,548.8 L824.0,548.0 L825.0,548.5 L826.0,547.9 L827.0,549.2 L828.0,548.3 L829.0,547.8 L830.0,548.7 L831.0,548.7 L832.0,549.5 L833.0,548.8 L834.0,549.0 L835.0,549.3 L836.0,549.7 L837.0,549.2 L838.0,549.7 L839.0,549.6 L840.0,549.4 L841.0,549.6 L842.0,549.6 L843.0,549.4 L844.0,550.2 L845.0,549.3 L846.0,550.3 L847.0,550.3 L848.0,550.0 L849.0,549.8 L850.0,550.1 L851.0,550.4 L852.0,550.6 L853.0,550.5 L854.0,550.8 L855.0,550.4 L856.0,550.7 L857.0,550.2 L858.0,551.0 L859.0,550.9 L860.0,550.8 L861.0,551.4 L862.0,551.3 L863.0,550.2 L864.0,551.2 L865.0,550.8 L866.0,551.8 L867.0,552.3 L868.0,551.4 L869.0,551.7 L870.0,551.6 L871.0,551.9 L872.0,552.1 L873.0,552.4 L874.0,551.7 L875.0,552.7 L876.0,551.9 L877.0,552.4 L878.0,552.8 L879.0,552.8 L880.0,552.3 L881.0,552.5 L882.0,552.6 L883.0,552.9 L884.0,553.4 L885.0,552.6 L886.0,553.3 L887.0,553.5 L888.0,553.5 L889.0,553.6 L890.0,554.1 L891.0,553.8 L892.0,554.0 L893.0,554.0 L894.0,554.5 L895.0,553.3 L896.0,554.5 L897.0,554.0 L898.0,554.1 L899.0,554.0 L900.0,553.7 L901.0,554.3 L902.0,554.3 L903.0,554.8 L904.0,554.2 L905.0,555.3 L906.0,554.9 L907.0,554.8 L908.0,554.7 L909.0,554.7 L910.0,554.7 L911.0,555.0 L912.0,555.2 L913.0,555.2 L914.0,554.8 L915.0,555.3 L916.0,555.1 L917.0,555.5 L918.0,556.1 L919.0,555.7 L920.0,555.5 L921.0,555.0 L922.0,555.1 L923.0,555.1 L924.0,555.9 L925.0,555.4 L926.0,555.7 L927.0,555.5 L928.0,555.8 L929.0,556.2 L930.0,555.5 L931.0,555.7 L932.0,555.5 L933.0,556.1 L934.0,555.5 L935.0,555.4 L936.0,555.4 L937.0,555.4 L938.0,556.1 L939.0,556.8 L940.0,555.6 L941.0,556.3 L942.0,556.0 L943.0,555.6 L944.0,555.9 L945.0,555.9 L946.0,555.7 L947.0,556.7 L948.0,555.3 L949.0,556.2 L950.0,556.2 L951.0,555.8 L952.0,556.1 L953.0,556.4 L954.0,556.1 L955.0,556.2 L956.0,556.4 L957.0,555.4 L958.0,556.6 L959.0,556.9 L960.0,556.5 L961.0,556.5 L962.0,555.7 L963.0,556.1 L964.0,555.9 L965.0,556.0 L966.0,556.5 L967.0,555.9 L968.0,556.2 L969.0,555.6 L970.0,556.2 L971.0,556.3 L972.0,556.0 L973.0,556.0 L974.0,556.9 L975.0,555.9 L976.0,555.9 L977.0,556.0 L978.0,556.7 L979.0,557.0 L980.0,556.4 L981.0,556.1 L982.0,556.2 L983.0,556.7 L984.0,556.0 L985.0,556.8 L986.0,556.8 L987.0,556.4 L988.0,556.6 L989.0,556.6 L990.0,556.9 L991.0,556.0 L992.0,556.8 L993.0,556.2 L994.0,556.1 L995.0,556.4 L996.0,556.3 L997.0,556.0 L998.0,555.8 L999.0,556.1 L1000.0,556.9 L1001.0,557.1 L1002.0,556.6 L1003.0,556.8 L1004.0,556.2 L1005.0,556.4 L1006.0,556.5 L1007.0,556.0 L1008.0,556.1 L1009.0,556.4 L1010.0,556.3 L1011.0,556.0 L1012.0,556.5 L1013.0,556.3 L1014.0,556.8 L1015.0,556.4 L1016.0,556.3 L1017.0,556.4 L1018.0,556.3 L1019.0,556.1 L1020.0,556.2 L1021.0,556.6 L1022.0,556.6 L1023.0,556.8 L1024.0,555.8 L1025.0,556.2 L1026.0,556.2 L1027.0,556.4 L1028.0,556.2 L1029.0,556.2 L1030.0,556.6 L1031.0,556.4 L1032.0,555.9 L1033.0,556.8 L1034.0,556.6 L1035.0,556.1 L1036.0,556.6 L1037.0,556.0 L1038.0,556.7 L1039.0,556.2 L1040.0,556.0 L1041.0,556.1 L1042.0,556.0 L1043.0,556.3 L1044.0,556.3 L1045.0,556.2 L1046.0,556.0 L1047.0,554.9 L1048.0,556.2 L1049.0,555.5 L1050.0,556.2 L1051.0,556.5 L1052.0,556.2 L1053.0,556.0 L1054.0,556.0 L1055.0,556.0 L1056.0,555.9 L1057.0,555.8 L1058.0,555.7 L1059.0,556.4 L1060.0,556.0 L1061.0,556.3 L1062.0,555.9 L1063.0,555.9 L1064.0,555.8 L1065.0,556.0 L1066.0,556.1 L1067.0,555.8 L1068.0,555.4 L1069.0,555.3 L1070.0,556.1 L1071.0,555.3 L1072.0,555.2 L1073.0,555.8 L1074.0,555.6 L1075.0,555.3 L1076.0,554.9 L1077.0,555.8 L1078.0,555.0 L1079.0,555.0 L1080.0,554.7 L1081.0,554.2 L1082.0,554.1 L1083.0,554.7 L1084.0,554.6 L1085.0,554.3 L1086.0,554.0 L1087.0,553.8 L1088.0,554.2 L1089.0,553.8 L1090.0,554.6 L1091.0,554.7 L1092.0,555.3 L1093.0,554.6 L1094.0,554.2 L1095.0,554.1 L1096.0,553.2 L1097.0,554.3 L1098.0,554.5 L1099.0,554.9 L1100.0,554.9 L1101.0,555.0 L1102.0,554.9 L1103.0,555.1 L1104.0,555.5 L1105.0,554.7 L1106.0,555.0 L1107.0,554.7 L1108.0,555.9 L1109.0,555.9 L1110.0,555.8 L1111.0,555.2 L1112.0,555.7 L1113.0,555.7 L1114.0,555.8 L1115.0,555.8 L1116.0,556.1 L1117.0,555.9 L1118.0,556.4 L1119.0,556.2 L1120.0,556.1 L1121.0,556.2 L1122.0,556.1 L1123.0,556.6 L1124.0,556.3 L1125.0,556.5 L1126.0,556.3 L1127.0,556.0 L1128.0,556.8 L1129.0,556.2 L1130.0,556.8 L1131.0,556.8 L1132.0,556.1 L1133.0,556.4 L1134.0,556.6 L1135.0,556.5 L1136.0,556.4 L1137.0,557.1 L1138.0,556.8 L1139.0,557.0 L1140.0,556.8 L1141.0,557.1 L1142.0,556.7 L1143.0,557.0 L1144.0,557.3 L1145.0,557.1 L1146.0,557.0 L1147.0,556.8 L1148.0,557.3 L1149.0,557.4 L1150.0,557.2 L1151.0,557.1 L1152.0,557.6 L1153.0,558.3 L1154.0,557.4 L1155.0,557.7 L1156.0,557.7 L1157.0,556.8 L1158.0,557.8 L1159.0,557.5 L1160.0,558.3 L1161.0,557.8 L1162.0,557.7 L1163.0,558.0 L1164.0,558.2 L1165.0,558.0 L1166.0,558.2 L1167.0,557.8 L1168.0,558.3 L1169.0,558.7 L1170.0,559.2 L1171.0,558.8 L1172.0,558.8 L1173.0,559.1 L1174.0,559.2 L1175.0,559.4 L1176.0,559.3 L1177.0,559.0 L1178.0,559.2 L1179.0,559.2 L1180.0,559.3 L1181.0,559.3 L1182.0,559.0 L1183.0,558.6 L1184.0,559.2 L1185.0,558.8 L1186.0,559.5 L1187.0,559.6 L1188.0,559.0 L1189.0,559.9 L1190.0,560.0 L1191.0,559.8 L1192.0,560.4 L1193.0,560.5 L1194.0,559.4 L1195.0,560.2 L1196.0,560.1 L1197.0,560.1 L1198.0,560.3 L1199.0,559.8 L1200.0,559.8 L1201.0,559.8 L1202.0,559.8 L1203.0,560.1 L1204.0,559.7 L1205.0,559.8 L1206.0,560.4 L1207.0,560.2 L1208.0,560.4 L1209.0,559.7 L1210.0,560.1 L1211.0,560.2 L1212.0,560.4 L1213.0,560.2 L1214.0,560.8 L1215.0,560.5 L1216.0,560.5 L1217.0,560.5 L1218.0,560.8 L1219.0,560.4 L1220.0,561.0 L1221.0,560.8 L1222.0,560.7 L1223.0,560.7 L1224.0,560.9 L1225.0,561.1 L1226.0,561.1 L1227.0,560.9 L1228.0,561.1 L1229.0,560.8 L1230.0,561.3 L1231.0,560.8 L1232.0,560.1 L1233.0,561.4 L1234.0,561.0 L1235.0,560.5 L1236.0,560.9 L1237.0,560.7 L1238.0,561.7 L1239.0,561.2 L1240.0,560.5 L1241.0,561.3 L1242.0,561.0 L1243.0,561.8 L1244.0,560.8 L1245.0,560.4 L1246.0,561.2 L1247.0,561.1 L1248.0,561.1 L1249.0,560.5 L1250.0,561.4 L1251.0,561.9 L1252.0,560.6 L1253.0,561.7 L1254.0,561.2 L1255.0,562.2 L1256.0,561.6 L1257.0,561.4 L1258.0,561.8 L1259.0,561.7 L1260.0,561.3 L1261.0,561.8 L1262.0,561.4 L1263.0,560.9 L1264.0,562.3 L1265.0,561.5 L1266.0,561.4 L1267.0,561.8 L1268.0,561.2 L1269.0,561.3 L1270.0,561.6 L1271.0,561.6 L1272.0,561.8 L1273.0,562.2 L1274.0,561.7 L1275.0,562.1 L1276.0,562.2 L1277.0,561.6 L1278.0,562.1 L1279.0,561.7 L1280.0,562.4 L1281.0,562.3 L1282.0,562.1 L1283.0,561.7 L1284.0,562.2 L1285.0,562.0 L1286.0,562.5 L1287.0,562.2 L1288.0,562.0 L1289.0,562.7 L1290.0,562.6 L1291.0,562.2 L1292.0,562.8 L1293.0,562.4 L1294.0,562.4 L1295.0,562.6 L1296.0,562.3 L1297.0,562.4 L1298.0,562.5 L1299.0,563.2 L1300.0,563.2 L1301.0,562.6 L1302.0,563.3 L1303.0,562.7 L1304.0,562.9 L1305.0,563.1 L1306.0,562.9 L1307.0,563.7 L1308.0,562.9 L1309.0,562.5 L1310.0,563.4 L1311.0,562.8 L1312.0,562.8 L1313.0,561.9 L1314.0,563.3 L1315.0,563.3 L1316.0,563.3 L1317.0,563.4 L1318.0,563.7 L1319.0,563.1 L1320.0,563.4 L1321.0,562.9 L1322.0,563.0 L1323.0,563.5 L1324.0,563.3 L1325.0,562.7 L1326.0,563.3 L1327.0,563.1 L1328.0,562.9 L1329.0,563.3 L1330.0,563.1 L1331.0,562.6 L1332.0,562.8 L1333.0,563.8 L1334.0,562.7 L1335.0,563.3 L1336.0,563.4 L1337.0,563.4 L1338.0,562.8 L1339.0,563.1 L1340.0,563.2 L1341.0,563.5 L1342.0,563.0 L1343.0,562.8 L1344.0,563.5 L1345.0,563.6 L1346.0,563.3 L1347.0,563.0 L1348.0,563.3 L1349.0,563.2 L1350.0,563.4 L1351.0,562.7 L1352.0,563.2 L1353.0,563.1 L1354.0,562.7 L1355.0,563.2 L1356.0,563.1 L1357.0,563.0 L1358.0,563.2 L1359.0,562.6 L1360.0,563.1 L1361.0,563.2 L1362.0,563.2 L1363.0,563.4 L1364.0,562.6 L1365.0,562.5 L1366.0,563.1 L1367.0,563.2 L1368.0,563.7 L1369.0,563.2 L1370.0,562.7 L1371.0,563.2 L1372.0,562.7 L1373.0,562.4 L1374.0,563.8 L1375.0,563.0 L1376.0,563.2 L1377.0,563.1 L1378.0,563.5 L1379.0,563.0 L1380.0,563.3 L1381.0,562.5 L1382.0,562.3 L1383.0,563.3 L1384.0,563.3 L1385.0,563.0 L1386.0,562.9 L1387.0,562.8 L1388.0,562.5 L1389.0,563.3 L1390.0,563.0 L1391.0,562.9 L1392.0,562.8 L1393.0,563.1 L1394.0,562.9 L1395.0,562.9 L1396.0,562.2 L1397.0,562.8 L1398.0,563.4 L1399.0,562.4 L1400.0,562.6 L1401.0,562.9 L1402.0,562.9 L1403.0,562.8 L1404.0,562.0 L1405.0,562.7 L1406.0,562.1 L1407.0,562.2 L1408.0,562.6 L1409.0,562.3 L1410.0,562.7 L1411.0,563.5 L1412.0,562.6 L1413.0,562.6 L1414.0,562.0 L1415.0,562.1 L1416.0,561.9 L1417.0,562.0 L1418.0,561.8 L1419.0,562.0 L1420.0,562.1 L1421.0,561.8 L1422.0,561.6 L1423.0,561.6 L1424.0,562.2 L1425.0,562.1 L1426.0,562.4 L1427.0,562.4 L1428.0,561.9 L1429.0,562.2 L1430.0,561.4 L1431.0,562.7 L1432.0,562.3 L1433.0,561.8 L1434.0,561.5 L1435.0,562.0 L1436.0,561.2 L1437.0,561.6 L1438.0,562.1 L1439.0,561.9 L1440.0,561.7 L1441.0,562.2 L1442.0,561.5 L1443.0,561.9 L1444.0,561.7 L1445.0,561.5 L1446.0,562.0 L1447.0,561.5 L1448.0,562.5 L1449.0,561.6 L1450.0,562.5 L1451.0,561.5 L1452.0,562.1 L1453.0,561.4 L1454.0,561.4 L1455.0,561.9 L1456.0,562.1 L1457.0,561.4 L1458.0,562.3 L1459.0,561.6 L1460.0,561.9 L1461.0,562.0 L1462.0,562.2 L1463.0,561.4 L1464.0,562.6 L1465.0,562.3 L1466.0,562.0 L1467.0,561.9 L1468.0,561.8 L1469.0,562.0 L1470.0,562.7 L1471.0,562.5 L1472.0,562.4 L1473.0,562.7 L1474.0,563.5 L1475.0,563.0 L1476.0,563.0 L1477.0,563.8 L1478.0,563.6 L1479.0,563.6 L1480.0,563.5 L1481.0,563.3 L1482.0,563.5 L1483.0,563.8 L1484.0,564.0 L1485.0,564.3 L1486.0,564.5 L1487.0,564.5 L1488.0,564.6 L1489.0,564.2 L1490.0,563.9 L1491.0,564.5 L1492.0,564.4 L1493.0,564.6 L1494.0,564.8 L1495.0,564.5 L1496.0,564.6 L1497.0,565.1 L1498.0,565.2 L1499.0,565.0 L1500.0,565.5 L1501.0,565.3 L1502.0,565.1 L1503.0,565.5 L1504.0,566.2 L1505.0,565.4 L1506.0,566.1 L1507.0,566.2 L1508.0,566.3 L1509.0,565.6 L1510.0,566.6 L1511.0,566.0 L1512.0,565.9 L1513.0,566.0 L1514.0,566.4 L1515.0,566.2 L1516.0,566.2 L1517.0,566.8 L1518.0,566.1 L1519.0,566.1 L1520.0,566.7 L1521.0,566.8 L1522.0,567.0 L1523.0,566.2 L1524.0,567.0 L1525.0,566.9 L1526.0,567.4 L1527.0,566.4 L1528.0,566.9 L1529.0,566.8 L1530.0,566.4 L1531.0,566.7 L1532.0,567.4 L1533.0,566.9 L1534.0,566.8 L1535.0,567.4 L1536.0,567.5 L1537.0,567.5 L1538.0,567.0 L1539.0,567.2 L1540.0,567.7 L1541.0,567.1 L1542.0,567.1 L1543.0,567.7 L1544.0,568.0 L1545.0,567.0 L1546.0,566.6 L1547.0,567.0 L1548.0,567.2 L1549.0,567.5 L1550.0,567.8 L1551.0,567.5 L1552.0,567.4 L1553.0,567.7 L1554.0,567.3 L1555.0,567.7 L1556.0,567.5 L1557.0,568.7 L1558.0,568.1 L1559.0,567.5 L1560.0,567.5 L1561.0,567.7 L1562.0,567.3 L1563.0,567.6 L1564.0,567.7 L1565.0,568.3 L1566.0,567.8 L1567.0,567.7 L1568.0,567.5 L1569.0,567.6 L1570.0,568.0 L1571.0,568.0 L1572.0,568.5 L1573.0,567.9 L1574.0,568.5 L1575.0,568.3 L1576.0,568.2 L1577.0,567.5 L1578.0,567.8 L1579.0,568.5 L1580.0,568.8 L1581.0,568.4 L1582.0,568.6 L1583.0,568.2 L1584.0,568.2 L1585.0,568.1 L1586.0,568.7 L1587.0,568.5 L1588.0,568.4 L1589.0,568.3 L1590.0,568.7 L1591.0,568.6 L1592.0,568.2 L1593.0,569.1 L1594.0,568.6 L1595.0,568.6 L1596.0,569.1 L1597.0,569.0 L1598.0,568.6 L1599.0,568.8 L1600.0,568.3 L1601.0,568.4 L1602.0,567.9 L1603.0,569.1 L1604.0,568.0 L1605.0,569.0 L1606.0,568.5 L1607.0,568.4 L1608.0,568.7 L1609.0,568.9 L1610.0,569.0 L1611.0,569.4 L1612.0,569.0 L1613.0,569.1 L1614.0,568.6 L1615.0,569.1 L1616.0,568.9 L1617.0,568.7 L1618.0,568.9 L1619.0,568.9 L1620.0,569.0 L1621.0,569.1 L1622.0,568.8 L1623.0,568.7 L1624.0,569.2 L1625.0,568.4 L1626.0,568.8 L1627.0,569.5 L1628.0,568.1 L1629.0,568.8 L1630.0,569.3 L1631.0,568.5 L1632.0,570.0 L1633.0,568.1 L1634.0,569.6 L1635.0,569.6 L1636.0,569.4 L1637.0,569.0 L1638.0,569.2 L1639.0,568.8 L1640.0,569.4 L1641.0,568.7 L1642.0,569.0 L1643.0,569.5 L1644.0,568.7 L1645.0,569.0 L1646.0,569.2 L1647.0,568.7 L1648.0,569.6 L1649.0,569.3 L1650.0,568.6 L1651.0,569.1 L1652.0,568.9 L1653.0,568.9 L1654.0,569.2 L1655.0,568.9 L1656.0,569.5 L1657.0,568.9 L1658.0,569.5 L1659.0,569.2 L1660.0,569.5 L1661.0,569.0 L1662.0,569.0 L1663.0,568.8 L1664.0,569.4 L1665.0,569.6 L1666.0,570.0 L1667.0,569.7 L1668.0,569.3 L1669.0,569.2 L1670.0,569.4 L1671.0,569.2 L1672.0,569.8 L1673.0,569.6 L1674.0,569.0 L1675.0,569.0 L1676.0,569.7 L1677.0,569.4 L1678.0,569.2 L1679.0,569.7 L1680.0,569.1 L1681.0,569.2 L1682.0,569.1 L1683.0,568.6 L1684.0,569.6 L1685.0,568.9 L1686.0,569.1 L1687.0,569.0 L1688.0,569.6 L1689.0,569.3 L1690.0,569.3 L1691.0,568.7 L1692.0,569.3 L1693.0,568.8 L1694.0,569.4 L1695.0,569.4 L1696.0,569.3 L1697.0,570.0 L1698.0,569.5 L1699.0,569.5 L1700.0,569.4 L1701.0,569.3 L1702.0,569.7 L1703.0,569.7 L1704.0,568.9 L1705.0,569.7 L1706.0,569.5 L1707.0,569.7 L1708.0,569.5 L1709.0,568.9 L1710.0,568.9 L1711.0,570.0 L1712.0,569.5 L1713.0,568.9 L1714.0,569.5 L1715.0,569.2 L1716.0,568.7 L1717.0,568.6 L1718.0,568.8 L1719.0,569.5 L1720.0,569.4 L1721.0,569.3 L1722.0,569.5 L1723.0,569.6 L1724.0,568.7 L1725.0,569.3 L1726.0,569.1 L1727.0,569.0 L1728.0,569.2 L1729.0,569.4 L1730.0,569.3 L1731.0,568.9 L1732.0,569.3 L1733.0,570.1 L1734.0,569.1 L1735.0,568.8 L1736.0,569.5 L1737.0,569.7 L1738.0,569.6 L1739.0,569.1 L1740.0,569.8 L1741.0,569.2 L1742.0,569.1 L1743.0,569.3 L1744.0,569.4 L1745.0,569.7 L1746.0,569.7 L1747.0,569.5 L1748.0,569.8 L1749.0,569.5 L1750.0,569.8 L1751.0,569.0 L1752.0,569.0 L1753.0,569.8 L1754.0,569.0 L1755.0,569.4 L1756.0,569.5 L1757.0,569.4 L1758.0,569.4 L1759.0,570.0 L1760.0,568.7 L1761.0,569.9 L1762.0,570.4 L1763.0,569.6 L1764.0,569.6 L1765.0,569.8 L1766.0,570.2 L1767.0,569.2 L1768.0,569.6 L1769.0,569.5 L1770.0,569.8 L1771.0,569.7 L1772.0,569.9 L1773.0,569.5 L1774.0,569.7 L1775.0,569.4 L1776.0,569.4 L1777.0,569.6 L1778.0,569.6 L1779.0,569.3 L1780.0,570.2 L1781.0,569.7 L1782.0,569.2 L1783.0,570.1 L1784.0,569.5 L1785.0,569.9 L1786.0,569.7 L1787.0,569.8 L1788.0,569.8 L1789.0,569.6 L1790.0,569.8 L1791.0,570.5 L1792.0,569.0 L1793.0,569.8 L1794.0,570.0 L1795.0,569.4 L1796.0,569.3 L1797.0,570.6 L1798.0,569.7 L1799.0,570.6 L1800.0,570.0 L1801.0,569.9 L1802.0,570.0 L1803.0,570.1 L1804.0,570.3 L1805.0,570.0 L1806.0,570.0 L1807.0,570.0 L1808.0,570.4 L1809.0,570.2 L1810.0,569.6 L1811.0,569.7 L1812.0,570.1 L1813.0,569.8 L1814.0,569.8 L1815.0,569.7 L1816.0,569.9 L1817.0,570.2 L1818.0,570.4 L1819.0,570.0 L1820.0,570.8 L1821.0,570.0 L1822.0,571.2 L1823.0,570.4 L1824.0,570.2 L1825.0,569.9 L1826.0,569.1 L1827.0,570.0 L1828.0,570.2 L1829.0,570.8 L1830.0,569.6 L1831.0,570.8 L1832.0,570.1 L1833.0,570.4 L1834.0,569.3 L1835.0,570.2 L1836.0,570.1 L1837.0,570.4 L1838.0,570.2 L1839.0,569.8 L1840.0,570.5 L1841.0,570.5 L1842.0,570.4 L1843.0,570.6 L1844.0,570.6 L1845.0,570.3 L1846.0,569.8 L1847.0,569.8 L1848.0,570.8 L1849.0,570.5 L1850.0,570.3 L1851.0,570.2 L1852.0,570.3 L1853.0,570.3 L1854.0,570.2 L1855.0,570.1 L1856.0,571.1 L1857.0,570.5 L1858.0,570.2 L1859.0,569.9 L1860.0,570.1 L1861.0,570.7 L1862.0,570.7 L1863.0,570.3 L1864.0,570.5 L1865.0,570.3 L1866.0,570.1 L1867.0,570.9 L1868.0,570.6 L1869.0,571.3 L1870.0,570.2 L1871.0,570.4 L1872.0,570.8 L1873.0,570.4 L1874.0,570.0 L1875.0,570.2 L1876.0,570.6 L1877.0,570.7 L1878.0,570.5 L1879.0,570.9 L1880.0,570.9 L1881.0,570.7 L1882.0,570.6 L1883.0,570.5 L1884.0,570.8 L1885.0,570.9 L1886.0,570.6 L1887.0,570.8 L1888.0,570.5 L1889.0,570.1 L1890.0,570.3 L1891.0,570.9 L1892.0,570.8 L1893.0,571.2 L1894.0,570.7 L1895.0,571.0 L1896.0,571.1 L1897.0,571.0 L1898.0,570.5 L1899.0,570.6 L1900.0,570.7 L1901.0,570.4 L1902.0,570.9 L1903.0,571.1 L1904.0,570.6 L1905.0,571.4 L1906.0,570.6 L1907.0,570.7 L1908.0,570.7 L1909.0,570.5 L1910.0,570.9 L1911.0,570.8 L1912.0,571.3 L1913.0,571.0 L1914.0,571.0 L1915.0,570.7 L1916.0,570.3 L1917.0,570.8 L1918.0,570.5 L1919.0,571.1 L1920.0,570.8 L1921.0,571.4 L1922.0,571.1 L1923.0,571.1 L1924.0,570.9 L1925.0,570.9 L1926.0,571.1 L1927.0,571.2 L1928.0,570.6 L1929.0,571.0 L1930.0,571.8 L1931.0,570.8 L1932.0,570.8 L1933.0,570.6 L1934.0,570.4 L1935.0,571.3 L1936.0,570.9 L1937.0,571.0 L1938.0,571.5 L1939.0,571.8 L1940.0,570.6 L1941.0,571.3 L1942.0,571.1 L1943.0,571.1 L1944.0,571.1 L1945.0,570.9 L1946.0,571.5 L1947.0,571.1 L1948.0,571.1 L1949.0,571.4 L1950.0,571.3 L1951.0,571.1 L1952.0,571.1 L1953.0,571.6 L1954.0,571.1 L1955.0,570.9 L1956.0,570.7 L1957.0,570.9 L1958.0,570.6 L1959.0,571.0 L1960.0,571.1 L1961.0,570.3 L1962.0,571.0 L1963.0,571.2 L1964.0,571.1 L1965.0,570.7 L1966.0,571.5 L1967.0,570.8 L1968.0,570.6 L1969.0,570.6 L1970.0,571.0 L1971.0,571.4 L1972.0,571.5 L1973.0,571.1 L1974.0,570.6 L1975.0,570.8 L1976.0,570.7 L1977.0,571.0 L1978.0,570.5 L1979.0,571.1 L1980.0,571.3 L1981.0,571.0 L1982.0,571.3 L1983.0,570.8 L1984.0,570.6 L1985.0,570.9 L1986.0,571.5 L1987.0,571.5 L1988.0,571.0 L1989.0,571.6 L1990.0,571.0 L1991.0,571.7 L1992.0,571.3 L1993.0,571.0 L1994.0,571.4 L1995.0,570.9 L1996.0,570.8 L1997.0,570.7 L1998.0,571.3 L1999.0,571.2 L2000.0,571.2 L2001.0,571.1 L2002.0,571.7 L2003.0,571.1 L2004.0,571.0 L2005.0,571.7 L2006.0,571.7 L2007.0,571.4 L2008.0,570.7 L2009.0,571.1 L2010.0,571.5 L2011.0,571.3 L2012.0,571.8 L2013.0,570.8 L2014.0,571.6 L2015.0,571.1 L2016.0,571.8 L2017.0,571.3 L2018.0,571.7 L2019.0,571.1 L2020.0,570.9 L2021.0,571.0 L2022.0,571.2 L2023.0,571.1 L2024.0,571.8 L2025.0,571.9 L2026.0,571.5 L2027.0,571.1 L2028.0,571.4 L2029.0,571.2 L2030.0,572.0 L2031.0,571.6 L2032.0,571.7 L2033.0,571.4 L2034.0,570.8 L2035.0,571.3 L2036.0,571.2 L2037.0,571.7 L2038.0,571.6 L2039.0,571.3 L2040.0,571.5 L2041.0,572.2 L2042.0,571.3 L2043.0,571.3 L2044.0,571.6 L2045.0,571.4 L2046.0,571.5 L2047.0,571.9 L2048.0,572.3 L2049.0,571.1 L2050.0,571.7 L2051.0,571.8 L2052.0,571.7 L2053.0,571.7 L2054.0,571.7 L2055.0,572.1 L2056.0,571.6 L2057.0,571.8 L2058.0,571.8 L2059.0,571.9 L2060.0,571.8 L2061.0,572.2 L2062.0,571.9 L2063.0,571.9 L2064.0,571.9 L2065.0,571.6 L2066.0,571.6 L2067.0,571.6 L2068.0,572.0 L2069.0,571.7 L2070.0,571.6 L2071.0,572.0 L2072.0,572.2 L2073.0,571.4 L2074.0,572.6 L2075.0,572.0 L2076.0,572.0 L2077.0,572.4 L2078.0,572.1 L2079.0,571.8 L2080.0,572.8 L2081.0,571.7 L2082.0,572.0 L2083.0,572.4 L2084.0,571.7 L2085.0,572.0 L2086.0,572.2 L2087.0,572.9 L2088.0,571.8 L2089.0,572.1 L2090.0,572.3 L2091.0,572.1 L2092.0,571.7 L2093.0,572.3 L2094.0,572.2 L2095.0,572.3 L2096.0,572.5 L2097.0,572.5 L2098.0,572.3 L2099.0,572.2 L2100.0,571.8 L2101.0,572.1 L2102.0,572.2 L2103.0,572.0 L2104.0,572.2 L2105.0,571.9 L2106.0,572.7 L2107.0,572.9 L2108.0,572.0 L2109.0,572.3 L2110.0,572.1 L2111.0,572.6 L2112.0,572.3 L2113.0,572.2 L2114.0,572.1 L2115.0,572.2 L2116.0,571.8 L2117.0,572.4 L2118.0,572.0 L2119.0,572.4 L2120.0,572.3 L2121.0,572.6 L2122.0,572.2 L2123.0,572.6 L2124.0,571.9 L2125.0,572.4 L2126.0,572.1 L2127.0,572.3 L2128.0,572.3 L2129.0,572.6 L2130.0,571.5 L2131.0,572.4 L2132.0,571.7 L2133.0,572.7 L2134.0,571.6 L2135.0,571.9 L2136.0,571.7 L2137.0,572.8 L2138.0,571.8 L2139.0,572.3 L2140.0,572.1 L2141.0,571.6 L2142.0,572.1 L2143.0,572.5 L2144.0,572.2 L2145.0,572.6 L2146.0,572.1 L2147.0,572.3 L2148.0,572.1 L2149.0,572.4 L2150.0,572.9 L2151.0,572.4 L2152.0,572.4 L2153.0,572.1 L2154.0,572.0 L2155.0,572.8 L2156.0,571.9 L2157.0,572.0 L2158.0,572.3 L2159.0,572.2 L2160.0,573.0 L2161.0,571.5 L2162.0,572.4 L2163.0,572.6 L2164.0,571.9 L2165.0,572.1 L2166.0,572.5 L2167.0,572.9 L2168.0,572.0 L2169.0,571.8 L2170.0,572.7 L2171.0,572.9 L2172.0,572.2 L2173.0,571.6 L2174.0,572.8 L2175.0,572.3 L2176.0,572.7 L2177.0,572.3 L2178.0,572.2 L2179.0,572.2 L2180.0,572.9 L2181.0,572.9 L2182.0,571.6 L2183.0,572.0 L2184.0,573.0 L2185.0,572.2 L2186.0,571.9 L2187.0,572.4 L2188.0,572.3 L2189.0,572.3 L2190.0,572.2 L2191.0,572.3 L2192.0,572.2 L2193.0,572.5 L2194.0,572.1 L2195.0,572.3 L2196.0,572.3 L2197.0,572.8 L2198.0,572.5 L2199.0,572.4 L2200.0,572.6 L2201.0,572.5 L2202.0,572.8 L2203.0,572.6 L2204.0,573.0 L2205.0,572.9 L2206.0,572.4 L2207.0,572.3 L2208.0,572.7 L2209.0,572.6 L2210.0,572.4 L2211.0,571.9 L2212.0,571.8 L2213.0,572.6 L2214.0,572.7 L2215.0,572.7 L2216.0,572.0 L2217.0,572.8 L2218.0,572.3 L2219.0,572.6 L2220.0,572.6 L2221.0,572.2 L2222.0,572.3 L2223.0,571.7 L2224.0,572.1 L2225.0,571.8 L2226.0,572.6 L2227.0,572.5 L2228.0,572.8 L2229.0,572.6 L2230.0,572.3 L2231.0,572.6 L2232.0,572.4 L2233.0,572.7 L2234.0,572.6 L2235.0,572.1 L2236.0,572.5 L2237.0,572.5 L2238.0,572.4 L2239.0,572.8 L2240.0,573.1 L2241.0,572.4 L2242.0,572.4 L2243.0,571.7 L2244.0,572.5 L2245.0,572.4 L2246.0,571.8 L2247.0,572.6 L2248.0,572.7 L2249.0,572.3 L2250.0,572.4 L2251.0,572.2 L2252.0,572.8 L2253.0,572.0 L2254.0,572.4 L2255.0,573.2 L2256.0,572.6 L2257.0,572.7 L2258.0,572.5 L2259.0,572.1 L2260.0,572.6 L2261.0,572.7 L2262.0,572.2 L2263.0,572.7 L2264.0,573.0 L2265.0,573.0 L2266.0,572.0 L2267.0,572.2 L2268.0,572.0 L2269.0,573.0 L2270.0,572.8 L2271.0,572.8 L2272.0,572.3 L2273.0,572.2 L2274.0,572.6 L2275.0,572.6 L2276.0,572.3 L2277.0,572.7 L2278.0,572.8 L2279.0,572.7 L2280.0,572.3 L2281.0,571.9 L2282.0,572.5 L2283.0,572.7 L2284.0,572.5 L2285.0,572.5 L2286.0,572.4 L2287.0,572.9 L2288.0,572.6 L2289.0,572.7 L2290.0,572.3 L2291.0,572.4 L2292.0,572.7 L2293.0,572.3 L2294.0,572.2 L2295.0,572.5 L2296.0,573.1 L2297.0,572.7 L2298.0,573.2 L2299.0,572.6 L2300.0,572.6 L2301.0,572.2 L2302.0,572.5 L2303.0,573.2 L2304.0,572.8 L2305.0,572.9 L2306.0,572.9 L2307.0,572.7 L2308.0,572.6 L2309.0,572.7 L2310.0,572.9 L2311.0,572.9 L2312.0,572.9 L2313.0,572.8 L2314.0,572.4 L2315.0,572.6 L2316.0,572.4 L2317.0,573.1 L2318.0,572.0 L2319.0,572.6 L2320.0,573.6 L2321.0,572.6 L2322.0,572.3 L2323.0,572.7 L2324.0,573.2 L2325.0,572.7 L2326.0,573.0 L2327.0,572.8 L2328.0,572.6 L2329.0,573.9 L2330.0,572.8 L2331.0,572.6 L2332.0,572.6 L2333.0,572.9 L2334.0,572.9 L2335.0,573.0 L2336.0,572.8 L2337.0,572.3 L2338.0,573.0 L2339.0,572.7 L2340.0,572.7 L2341.0,572.3 L2342.0,572.6 L2343.0,572.5 L2344.0,572.8 L2345.0,572.3 L2346.0,572.8 L2347.0,572.8 L2348.0,572.4" fill="none" stroke="#e0080e" stroke-width="6.6" stroke-linejoin="round" stroke-linecap="round"/>
<path d="M181.0,645.0 L182.5,645.1 L184.0,645.8 L185.5,644.8 L187.0,645.7 L188.5,645.4 L190.0,646.0 L191.5,646.5 L193.0,646.2 L194.5,646.6 L196.0,646.4 L197.5,647.5 L199.0,647.2 L200.5,647.4 L202.0,646.7 L203.5,646.9 L205.0,647.8 L206.5,647.5 L208.0,647.6 L209.5,647.9 L211.0,647.5 L212.5,648.3 L214.0,648.1 L215.5,648.4 L217.0,648.1 L218.5,648.6 L220.0,648.3 L221.5,648.9 L223.0,649.1 L224.5,649.1 L226.0,649.0 L227.5,649.1 L229.0,648.0 L230.5,649.3 L232.0,649.0 L233.5,649.2 L235.0,649.1 L236.5,648.8 L238.0,649.2 L239.5,649.6 L241.0,650.0 L242.5,649.3 L244.0,649.2 L245.5,650.1 L247.0,649.3 L248.5,650.4 L250.0,649.8 L251.5,649.5 L253.0,650.2 L254.5,650.5 L256.0,649.4 L257.5,650.5 L259.0,649.9 L260.5,650.5 L262.0,649.9 L263.5,649.5 L265.0,650.3 L266.5,650.5 L268.0,650.9 L269.5,650.8 L271.0,650.5 L272.5,650.2 L274.0,650.2 L275.5,650.3 L277.0,650.1 L278.5,650.3 L280.0,649.6 L281.5,650.6 L283.0,650.5 L284.5,651.5 L286.0,650.9 L287.5,650.4 L289.0,650.8 L290.6,650.2 L292.1,650.5 L293.6,650.1 L295.1,651.2 L296.6,651.0 L298.1,650.4 L299.6,650.8 L301.1,651.1 L302.6,651.0 L304.1,651.0 L305.6,650.6 L307.1,650.7 L308.6,650.9 L310.1,651.2 L311.6,650.6 L313.1,650.5 L314.6,651.4 L316.1,650.6 L317.6,651.4 L319.1,651.1 L320.6,651.3 L322.1,651.6 L323.6,651.3 L325.1,651.3 L326.6,650.7 L328.1,650.8 L329.6,651.3 L331.1,651.6 L332.6,651.6 L334.1,651.9 L335.6,651.2 L337.1,651.2 L338.6,651.5 L340.1,651.2 L341.6,651.2 L343.1,650.8 L344.6,651.5 L346.1,650.8 L347.6,651.4 L349.1,650.7 L350.6,651.6 L352.1,650.9 L353.6,651.6 L355.1,650.7 L356.6,651.1 L358.1,651.7 L359.6,651.0 L361.1,651.3 L362.6,651.1 L364.1,650.5 L365.6,651.4 L367.1,651.5 L368.6,651.0 L370.1,651.6 L371.6,651.1 L373.1,651.0 L374.6,651.4 L376.1,651.2 L377.6,652.2 L379.1,650.9 L380.6,651.7 L382.1,651.8 L383.6,650.8 L385.1,650.8 L386.6,651.7 L388.1,651.3 L389.6,651.6 L391.1,651.9 L392.6,651.4 L394.1,651.1 L395.6,650.6 L397.1,651.6 L398.6,651.2 L400.1,651.6 L401.6,651.6 L403.1,651.1 L404.6,652.2 L406.1,651.9 L407.6,651.9 L409.1,651.2 L410.6,651.4 L412.1,651.4 L413.6,651.4 L415.1,651.2 L416.6,651.8 L418.1,651.7 L419.6,651.8 L421.1,651.5 L422.6,652.1 L424.1,651.7 L425.6,650.7 L427.1,651.4 L428.6,651.6 L430.1,652.0 L431.6,651.6 L433.1,651.6 L434.6,651.5 L436.1,651.9 L437.6,651.6 L439.1,651.5 L440.6,651.5 L442.1,651.9 L443.6,651.6 L445.1,651.2 L446.6,652.0 L448.1,651.5 L449.6,651.9 L451.1,651.9 L452.6,652.2 L454.1,652.2 L455.6,651.7 L457.1,651.8 L458.6,651.4 L460.1,652.5 L461.6,652.1 L463.1,652.4 L464.6,651.9 L466.1,651.3 L467.6,652.5 L469.1,652.1 L470.6,652.1 L472.1,652.1 L473.6,652.3 L475.1,652.3 L476.6,651.5 L478.1,652.5 L479.6,651.9 L481.1,651.9 L482.6,652.7 L484.1,652.4 L485.6,651.9 L487.1,651.4 L488.6,652.1 L490.1,652.2 L491.6,651.9 L493.1,651.5 L494.6,651.6 L496.1,651.4 L497.6,651.8 L499.1,652.0 L500.6,652.0 L502.1,651.4 L503.6,651.6 L505.1,651.7 L506.7,651.3 L508.2,651.3 L509.7,652.0 L511.2,651.3 L512.7,651.4 L514.2,650.9 L515.7,650.9 L517.2,650.2 L518.7,650.7 L520.2,650.9 L521.7,651.1 L523.2,650.6 L524.7,650.3 L526.2,649.9 L527.7,649.5 L529.2,649.5 L530.7,649.5 L532.2,648.8 L533.7,649.2 L535.2,648.3 L536.7,647.8 L538.2,647.7 L539.7,647.2 L541.2,646.9 L542.7,647.4 L544.2,646.4 L545.7,646.1 L547.2,645.8 L548.7,645.2 L550.2,643.7 L551.7,643.5 L553.2,642.2 L554.7,641.0 L556.2,640.0 L557.7,638.1 L559.2,636.8 L560.7,635.4 L562.2,634.1 L563.7,632.0 L565.2,630.3 L566.7,628.9 L568.2,627.2 L569.7,625.1 L571.2,623.5 L572.7,621.1 L574.2,619.3 L575.7,617.8 L577.2,615.9 L578.7,614.1 L580.2,613.2 L581.7,611.1 L583.2,609.7 L584.7,609.3 L586.2,609.0 L587.7,608.0 L589.2,608.2 L590.7,607.4 L592.2,607.3 L593.7,607.4 L595.2,607.9 L596.7,609.0 L598.2,608.6 L599.7,610.6 L601.2,610.8 L602.7,612.2 L604.2,613.9 L605.7,615.3 L607.2,616.7 L608.7,617.6 L610.2,620.0 L611.7,621.4 L613.2,624.5 L614.7,625.3 L616.2,627.3 L617.7,628.7 L619.2,630.8 L620.7,632.3 L622.2,634.7 L623.7,635.9 L625.2,637.7 L626.7,638.7 L628.2,640.1 L629.7,642.0 L631.2,642.4 L632.7,643.4 L634.2,645.3 L635.7,645.8 L637.2,646.8 L638.7,647.9 L640.2,647.8 L641.7,648.9 L643.2,648.7 L644.7,649.9 L646.2,650.2 L647.7,649.9 L649.2,650.2 L650.7,650.3 L652.2,650.8 L653.7,651.4 L655.2,650.7 L656.7,651.7 L658.2,651.1 L659.7,651.4 L661.2,651.3 L662.7,652.8 L664.2,652.2 L665.7,652.4 L667.2,652.2 L668.7,652.9 L670.2,651.9 L671.7,652.8 L673.2,653.6 L674.7,652.8 L676.2,653.1 L677.7,653.4 L679.2,652.9 L680.7,653.3 L682.2,653.7 L683.7,653.5 L685.2,653.7 L686.7,653.5 L688.2,653.8 L689.7,653.8 L691.2,654.3 L692.7,654.1 L694.2,653.9 L695.7,653.2 L697.2,654.3 L698.7,654.4 L700.2,653.9 L701.7,653.6 L703.2,654.0 L704.7,654.8 L706.2,654.1 L707.7,654.4 L709.2,654.7 L710.7,655.1 L712.2,654.8 L713.7,654.8 L715.2,654.7 L716.7,655.6 L718.2,655.4 L719.7,655.1 L721.2,654.7 L722.8,655.0 L724.3,655.6 L725.8,655.2 L727.3,655.8 L728.8,655.7 L730.3,655.8 L731.8,656.0 L733.3,656.0 L734.8,655.6 L736.3,655.9 L737.8,656.9 L739.3,655.7 L740.8,656.1 L742.3,656.7 L743.8,656.4 L745.3,656.2 L746.8,656.1 L748.3,656.8 L749.8,657.1 L751.3,657.3 L752.8,656.9 L754.3,657.3 L755.8,656.6 L757.3,657.0 L758.8,656.8 L760.3,657.1 L761.8,657.3 L763.3,657.5 L764.8,656.8 L766.3,657.6 L767.8,657.0 L769.3,656.8 L770.8,657.2 L772.3,656.7 L773.8,657.3 L775.3,657.4 L776.8,657.3 L778.3,657.6 L779.8,657.3 L781.3,657.4 L782.8,657.0 L784.3,657.5 L785.8,657.2 L787.3,657.4 L788.8,657.6 L790.3,657.7 L791.8,657.1 L793.3,657.2 L794.8,657.7 L796.3,658.0 L797.8,658.0 L799.3,658.2 L800.8,658.4 L802.3,658.2 L803.8,658.0 L805.3,657.7 L806.8,657.8 L808.3,658.0 L809.8,658.3 L811.3,658.3 L812.8,658.3 L814.3,658.3 L815.8,658.6 L817.3,658.5 L818.8,658.5 L820.3,658.6 L821.8,658.3 L823.3,658.1 L824.8,658.7 L826.3,658.7 L827.8,658.5 L829.3,658.4 L830.8,659.4 L832.3,658.3 L833.8,658.5 L835.3,658.7 L836.8,658.2 L838.3,658.6 L839.8,659.2 L841.3,658.9 L842.8,658.8 L844.3,658.8 L845.8,658.6 L847.3,658.9 L848.8,658.5 L850.3,658.4 L851.8,658.5 L853.3,658.8 L854.8,658.6 L856.3,658.7 L857.8,657.7 L859.3,658.8 L860.8,659.2 L862.3,658.8 L863.8,658.2 L865.3,658.0 L866.8,658.3 L868.3,657.8 L869.8,658.4 L871.3,657.9 L872.8,658.4 L874.3,658.5 L875.8,657.3 L877.3,658.0 L878.8,657.6 L880.3,657.3 L881.8,657.5 L883.3,657.6 L884.8,658.0 L886.3,657.0 L887.8,657.9 L889.3,658.1 L890.8,657.5 L892.3,657.3 L893.8,656.8 L895.3,656.1 L896.8,656.2 L898.3,655.7 L899.8,655.4 L901.3,655.6 L902.8,654.5 L904.3,653.9 L905.8,653.9 L907.3,652.5 L908.8,652.1 L910.3,652.0 L911.8,651.4 L913.3,651.4 L914.8,650.6 L916.3,650.8 L917.8,650.2 L919.3,649.3 L920.8,648.1 L922.3,647.8 L923.8,647.2 L925.3,646.1 L926.8,646.3 L928.3,646.1 L929.8,645.6 L931.3,645.8 L932.8,645.5 L934.3,644.7 L935.8,645.1 L937.3,644.8 L938.8,645.6 L940.4,645.4 L941.9,646.3 L943.4,646.5 L944.9,647.2 L946.4,647.2 L947.9,647.4 L949.4,649.2 L950.9,649.3 L952.4,650.6 L953.9,651.1 L955.4,651.8 L956.9,653.0 L958.4,653.3 L959.9,654.5 L961.4,654.2 L962.9,655.7 L964.4,655.7 L965.9,656.0 L967.4,656.2 L968.9,656.5 L970.4,657.1 L971.9,656.0 L973.4,656.8 L974.9,656.6 L976.4,657.3 L977.9,656.8 L979.4,657.2 L980.9,657.0 L982.4,657.4 L983.9,657.6 L985.4,657.2 L986.9,657.5 L988.4,657.0 L989.9,657.7 L991.4,658.0 L992.9,657.6 L994.4,658.3 L995.9,657.3 L997.4,657.5 L998.9,657.7 L1000.4,658.1 L1001.9,658.4 L1003.4,658.4 L1004.9,658.5 L1006.4,658.9 L1007.9,658.6 L1009.4,658.4 L1010.9,658.5 L1012.4,659.7 L1013.9,658.2 L1015.4,659.0 L1016.9,659.7 L1018.4,659.4 L1019.9,659.0 L1021.4,659.3 L1022.9,659.7 L1024.4,659.9 L1025.9,659.2 L1027.4,659.8 L1028.9,659.6 L1030.4,659.9 L1031.9,660.1 L1033.4,659.5 L1034.9,659.1 L1036.4,659.8 L1037.9,660.3 L1039.4,660.0 L1040.9,659.8 L1042.4,660.6 L1043.9,659.4 L1045.4,660.1 L1046.9,659.6 L1048.4,659.9 L1049.9,659.9 L1051.4,660.4 L1052.9,659.6 L1054.4,659.7 L1055.9,659.4 L1057.4,660.1 L1058.9,659.8 L1060.4,660.1 L1061.9,659.6 L1063.4,659.9 L1064.9,660.4 L1066.4,660.0 L1067.9,660.3 L1069.4,660.3 L1070.9,660.0 L1072.4,659.5 L1073.9,660.4 L1075.4,660.2 L1076.9,660.4 L1078.4,659.4 L1079.9,659.5 L1081.4,659.3 L1082.9,659.8 L1084.4,660.5 L1085.9,660.3 L1087.4,660.1 L1088.9,660.1 L1090.4,660.3 L1091.9,660.0 L1093.4,660.2 L1094.9,660.1 L1096.4,659.3 L1097.9,659.9 L1099.4,660.5 L1100.9,659.9 L1102.4,660.0 L1103.9,659.8 L1105.4,659.8 L1106.9,660.4 L1108.4,659.9 L1109.9,659.6 L1111.4,658.8 L1112.9,659.7 L1114.4,659.2 L1115.9,659.2 L1117.4,660.1 L1118.9,660.1 L1120.4,659.2 L1121.9,660.1 L1123.4,660.0 L1124.9,659.5 L1126.4,660.0 L1127.9,659.2 L1129.4,659.3 L1130.9,659.2 L1132.4,659.3 L1133.9,659.9 L1135.4,659.1 L1136.9,659.1 L1138.4,659.2 L1139.9,659.5 L1141.4,659.3 L1142.9,659.6 L1144.4,659.0 L1145.9,658.7 L1147.4,658.9 L1148.9,659.0 L1150.4,658.6 L1151.9,658.9 L1153.4,659.3 L1154.9,658.4 L1156.5,658.5 L1158.0,658.8 L1159.5,658.0 L1161.0,657.8 L1162.5,657.6 L1164.0,657.8 L1165.5,657.6 L1167.0,657.0 L1168.5,656.6 L1170.0,656.6 L1171.5,656.0 L1173.0,654.7 L1174.5,654.7 L1176.0,654.3 L1177.5,654.0 L1179.0,653.2 L1180.5,652.7 L1182.0,652.4 L1183.5,651.6 L1185.0,651.8 L1186.5,651.2 L1188.0,651.3 L1189.5,650.4 L1191.0,650.3 L1192.5,649.8 L1194.0,649.5 L1195.5,650.0 L1197.0,649.4 L1198.5,649.6 L1200.0,648.8 L1201.5,649.1 L1203.0,648.4 L1204.5,648.7 L1206.0,648.6 L1207.5,649.0 L1209.0,648.9 L1210.5,648.8 L1212.0,649.3 L1213.5,649.3 L1215.0,649.6 L1216.5,650.0 L1218.0,650.0 L1219.5,650.2 L1221.0,650.8 L1222.5,650.9 L1224.0,651.5 L1225.5,652.1 L1227.0,652.3 L1228.5,652.2 L1230.0,652.3 L1231.5,653.1 L1233.0,653.5 L1234.5,654.4 L1236.0,654.4 L1237.5,654.9 L1239.0,655.7 L1240.5,655.7 L1242.0,656.3 L1243.5,657.3 L1245.0,657.6 L1246.5,657.6 L1248.0,657.7 L1249.5,657.5 L1251.0,658.3 L1252.5,658.4 L1254.0,658.7 L1255.5,658.6 L1257.0,659.0 L1258.5,659.2 L1260.0,659.5 L1261.5,660.1 L1263.0,659.9 L1264.5,659.3 L1266.0,659.7 L1267.5,659.5 L1269.0,659.9 L1270.5,660.4 L1272.0,660.3 L1273.5,660.0 L1275.0,660.3 L1276.5,660.0 L1278.0,659.8 L1279.5,659.8 L1281.0,660.0 L1282.5,660.8 L1284.0,659.9 L1285.5,660.8 L1287.0,660.8 L1288.5,660.3 L1290.0,660.4 L1291.5,660.2 L1293.0,660.4 L1294.5,660.6 L1296.0,660.4 L1297.5,660.8 L1299.0,660.9 L1300.5,660.6 L1302.0,660.6 L1303.5,660.4 L1305.0,660.6 L1306.5,660.1 L1308.0,660.6 L1309.5,660.5 L1311.0,660.2 L1312.5,661.2 L1314.0,660.1 L1315.5,660.2 L1317.0,660.6 L1318.5,659.8 L1320.0,660.1 L1321.5,659.8 L1323.0,659.9 L1324.5,660.1 L1326.0,660.1 L1327.5,660.2 L1329.0,660.0 L1330.5,659.9 L1332.0,659.5 L1333.5,658.9 L1335.0,659.3 L1336.5,658.5 L1338.0,658.2 L1339.5,658.7 L1341.0,658.2 L1342.5,657.7 L1344.0,657.5 L1345.5,657.1 L1347.0,655.8 L1348.5,655.8 L1350.0,654.9 L1351.5,654.8 L1353.0,654.0 L1354.5,654.3 L1356.0,653.6 L1357.5,652.7 L1359.0,652.5 L1360.5,651.6 L1362.0,651.6 L1363.5,651.4 L1365.0,651.0 L1366.5,650.0 L1368.0,650.3 L1369.5,650.4 L1371.0,650.2 L1372.5,650.3 L1374.1,649.4 L1375.6,649.9 L1377.1,649.4 L1378.6,649.7 L1380.1,649.7 L1381.6,649.9 L1383.1,649.5 L1384.6,649.9 L1386.1,649.6 L1387.6,649.8 L1389.1,650.7 L1390.6,650.7 L1392.1,650.4 L1393.6,650.9 L1395.1,651.5 L1396.6,652.2 L1398.1,652.3 L1399.6,652.4 L1401.1,651.8 L1402.6,652.7 L1404.1,653.2 L1405.6,653.5 L1407.1,653.8 L1408.6,653.9 L1410.1,654.9 L1411.6,655.1 L1413.1,654.9 L1414.6,654.8 L1416.1,656.2 L1417.6,655.5 L1419.1,656.4 L1420.6,656.9 L1422.1,656.1 L1423.6,656.7 L1425.1,656.7 L1426.6,657.3 L1428.1,657.4 L1429.6,658.2 L1431.1,657.9 L1432.6,657.9 L1434.1,658.5 L1435.6,658.2 L1437.1,658.3 L1438.6,659.4 L1440.1,658.5 L1441.6,658.7 L1443.1,659.0 L1444.6,658.8 L1446.1,658.5 L1447.6,659.8 L1449.1,659.2 L1450.6,659.4 L1452.1,659.6 L1453.6,659.5 L1455.1,659.6 L1456.6,660.1 L1458.1,661.0 L1459.6,660.5 L1461.1,660.6 L1462.6,659.9 L1464.1,660.5 L1465.6,660.1 L1467.1,660.9 L1468.6,660.6 L1470.1,660.8 L1471.6,660.8 L1473.1,660.7 L1474.6,660.5 L1476.1,661.3 L1477.6,660.7 L1479.1,660.8 L1480.6,661.2 L1482.1,661.1 L1483.6,661.5 L1485.1,661.9 L1486.6,661.7 L1488.1,661.7 L1489.6,661.7 L1491.1,662.0 L1492.6,661.1 L1494.1,661.9 L1495.6,661.5 L1497.1,661.4 L1498.6,661.9 L1500.1,661.7 L1501.6,662.1 L1503.1,662.3 L1504.6,661.1 L1506.1,661.9 L1507.6,662.6 L1509.1,662.2 L1510.6,662.4 L1512.1,661.9 L1513.6,661.4 L1515.1,661.5 L1516.6,662.1 L1518.1,662.2 L1519.6,661.6 L1521.1,661.8 L1522.6,662.0 L1524.1,661.3 L1525.6,661.8 L1527.1,662.4 L1528.6,662.6 L1530.1,661.8 L1531.6,662.5 L1533.1,661.7 L1534.6,661.6 L1536.1,661.1 L1537.6,662.2 L1539.1,661.7 L1540.6,662.7 L1542.1,662.0 L1543.6,661.9 L1545.1,661.2 L1546.6,662.4 L1548.1,661.8 L1549.6,661.8 L1551.1,661.1 L1552.6,662.2 L1554.1,662.2 L1555.6,661.6 L1557.1,661.7 L1558.6,661.8 L1560.1,661.8 L1561.6,661.4 L1563.1,661.8 L1564.6,661.0 L1566.1,660.7 L1567.6,660.6 L1569.1,659.7 L1570.6,660.2 L1572.1,660.6 L1573.6,660.2 L1575.1,659.7 L1576.6,659.9 L1578.1,658.9 L1579.6,659.4 L1581.1,659.6 L1582.6,659.5 L1584.1,658.8 L1585.6,659.2 L1587.1,659.4 L1588.6,658.4 L1590.2,658.7 L1591.7,657.7 L1593.2,657.4 L1594.7,658.1 L1596.2,657.8 L1597.7,657.7 L1599.2,657.3 L1600.7,657.3 L1602.2,657.6 L1603.7,657.9 L1605.2,657.1 L1606.7,656.6 L1608.2,657.7 L1609.7,657.5 L1611.2,657.5 L1612.7,657.4 L1614.2,658.3 L1615.7,657.6 L1617.2,657.9 L1618.7,657.2 L1620.2,657.8 L1621.7,657.9 L1623.2,658.3 L1624.7,658.6 L1626.2,658.4 L1627.7,659.4 L1629.2,658.6 L1630.7,659.0 L1632.2,659.4 L1633.7,659.1 L1635.2,659.9 L1636.7,660.2 L1638.2,660.1 L1639.7,661.1 L1641.2,660.7 L1642.7,661.0 L1644.2,660.8 L1645.7,660.7 L1647.2,661.3 L1648.7,661.6 L1650.2,661.7 L1651.7,662.2 L1653.2,661.2 L1654.7,661.6 L1656.2,661.4 L1657.7,662.5 L1659.2,661.8 L1660.7,661.9 L1662.2,661.6 L1663.7,662.4 L1665.2,661.9 L1666.7,662.1 L1668.2,661.3 L1669.7,662.5 L1671.2,662.2 L1672.7,662.2 L1674.2,662.5 L1675.7,662.0 L1677.2,662.0 L1678.7,662.3 L1680.2,662.2 L1681.7,662.0 L1683.2,662.1 L1684.7,661.9 L1686.2,662.3 L1687.7,662.4 L1689.2,662.1 L1690.7,662.7 L1692.2,661.5 L1693.7,662.0 L1695.2,662.7 L1696.7,661.9 L1698.2,661.5 L1699.7,662.6 L1701.2,662.3 L1702.7,661.7 L1704.2,662.4 L1705.7,661.7 L1707.2,661.6 L1708.7,662.0 L1710.2,661.9 L1711.7,661.7 L1713.2,662.0 L1714.7,661.7 L1716.2,662.1 L1717.7,662.1 L1719.2,662.3 L1720.7,661.9 L1722.2,661.6 L1723.7,661.6 L1725.2,662.0 L1726.7,662.6 L1728.2,662.3 L1729.7,661.8 L1731.2,662.3 L1732.7,661.6 L1734.2,662.3 L1735.7,661.8 L1737.2,662.2 L1738.7,662.1 L1740.2,661.7 L1741.7,661.9 L1743.2,661.4 L1744.7,661.7 L1746.2,662.1 L1747.7,663.1 L1749.2,661.9 L1750.7,661.6 L1752.2,661.2 L1753.7,661.9 L1755.2,660.9 L1756.7,661.2 L1758.2,661.5 L1759.7,661.0 L1761.2,661.9 L1762.7,661.7 L1764.2,661.1 L1765.7,661.1 L1767.2,660.8 L1768.7,660.7 L1770.2,661.3 L1771.7,661.3 L1773.2,661.2 L1774.7,661.2 L1776.2,660.9 L1777.7,661.2 L1779.2,660.5 L1780.7,661.0 L1782.2,661.5 L1783.7,661.4 L1785.2,660.8 L1786.7,660.8 L1788.2,661.4 L1789.7,661.6 L1791.2,660.4 L1792.7,660.8 L1794.2,661.1 L1795.7,661.4 L1797.2,660.7 L1798.7,661.3 L1800.2,660.9 L1801.7,661.9 L1803.2,661.3 L1804.7,661.1 L1806.2,661.0 L1807.8,661.6 L1809.3,661.5 L1810.8,660.9 L1812.3,661.4 L1813.8,660.9 L1815.3,661.1 L1816.8,661.0 L1818.3,661.0 L1819.8,661.2 L1821.3,661.2 L1822.8,661.7 L1824.3,661.9 L1825.8,661.5 L1827.3,661.3 L1828.8,662.0 L1830.3,661.0 L1831.8,661.1 L1833.3,662.1 L1834.8,662.1 L1836.3,662.2 L1837.8,661.8 L1839.3,661.5 L1840.8,661.7 L1842.3,662.1 L1843.8,661.7 L1845.3,661.7 L1846.8,661.5 L1848.3,661.6 L1849.8,662.3 L1851.3,662.1 L1852.8,661.6 L1854.3,661.6 L1855.8,661.8 L1857.3,662.2 L1858.8,661.5 L1860.3,661.9 L1861.8,661.2 L1863.3,661.5 L1864.8,662.0 L1866.3,662.2 L1867.8,661.5 L1869.3,661.6 L1870.8,662.1 L1872.3,661.7 L1873.8,661.6 L1875.3,661.9 L1876.8,661.8 L1878.3,662.1 L1879.8,662.0 L1881.3,661.5 L1882.8,661.6 L1884.3,661.6 L1885.8,661.1 L1887.3,661.2 L1888.8,661.9 L1890.3,661.0 L1891.8,661.9 L1893.3,661.6 L1894.8,661.4 L1896.3,661.7 L1897.8,661.6 L1899.3,661.9 L1900.8,661.3 L1902.3,661.3 L1903.8,661.3 L1905.3,662.1 L1906.8,661.7 L1908.3,661.1 L1909.8,661.3 L1911.3,661.1 L1912.8,661.4 L1914.3,661.5 L1915.8,662.2 L1917.3,660.8 L1918.8,661.8 L1920.3,661.6 L1921.8,661.2 L1923.3,661.4 L1924.8,661.3 L1926.3,661.5 L1927.8,661.9 L1929.3,661.0 L1930.8,662.0 L1932.3,661.5 L1933.8,662.1 L1935.3,661.8 L1936.8,662.1 L1938.3,661.9 L1939.8,662.1 L1941.3,661.8 L1942.8,661.5 L1944.3,662.1 L1945.8,662.1 L1947.3,662.6 L1948.8,661.2 L1950.3,661.9 L1951.8,662.4 L1953.3,661.6 L1954.8,662.0 L1956.3,662.9 L1957.8,662.7 L1959.3,661.9 L1960.8,662.7 L1962.3,662.7 L1963.8,662.6 L1965.3,662.5 L1966.8,662.5 L1968.3,662.1 L1969.8,662.3 L1971.3,662.7 L1972.8,662.6 L1974.3,663.2 L1975.8,662.5 L1977.3,661.8 L1978.8,662.5 L1980.3,662.8 L1981.8,662.8 L1983.3,662.8 L1984.8,662.5 L1986.3,663.3 L1987.8,662.6 L1989.3,663.1 L1990.8,662.8 L1992.3,662.5 L1993.8,663.4 L1995.3,662.1 L1996.8,662.7 L1998.3,663.1 L1999.8,662.9 L2001.3,663.3 L2002.8,663.0 L2004.3,662.9 L2005.8,663.8 L2007.3,663.0 L2008.8,663.0 L2010.3,662.7 L2011.8,662.8 L2013.3,663.3 L2014.8,663.3 L2016.3,663.1 L2017.8,662.9 L2019.3,663.4 L2020.8,662.6 L2022.3,663.1 L2023.9,663.1 L2025.4,662.9 L2026.9,663.3 L2028.4,663.0 L2029.9,663.0 L2031.4,663.9 L2032.9,663.5 L2034.4,663.7 L2035.9,663.3 L2037.4,663.7 L2038.9,663.6 L2040.4,663.8 L2041.9,664.2 L2043.4,663.3 L2044.9,663.5 L2046.4,663.4 L2047.9,662.2 L2049.4,662.9 L2050.9,663.4 L2052.4,663.6 L2053.9,663.2 L2055.4,663.8 L2056.9,663.9 L2058.4,663.3 L2059.9,664.0 L2061.4,664.1 L2062.9,663.6 L2064.4,663.1 L2065.9,664.0 L2067.4,663.4 L2068.9,663.4 L2070.4,663.5 L2071.9,663.3 L2073.4,663.9 L2074.9,663.8 L2076.4,663.9 L2077.9,663.7 L2079.4,663.2 L2080.9,663.4 L2082.4,663.8 L2083.9,663.3 L2085.4,664.5 L2086.9,663.4 L2088.4,663.3 L2089.9,663.8 L2091.4,663.7 L2092.9,663.4 L2094.4,663.3 L2095.9,663.5 L2097.4,663.6 L2098.9,663.6 L2100.4,663.2 L2101.9,663.4 L2103.4,663.5 L2104.9,663.5 L2106.4,662.1 L2107.9,662.8 L2109.4,662.8 L2110.9,663.0 L2112.4,663.1 L2113.9,663.3 L2115.4,663.2 L2116.9,662.9 L2118.4,662.9 L2119.9,663.5 L2121.4,662.6 L2122.9,662.9 L2124.4,663.3 L2125.9,662.9 L2127.4,662.0 L2128.9,662.8 L2130.4,662.5 L2131.9,662.6 L2133.4,663.0 L2134.9,662.8 L2136.4,662.5 L2137.9,662.9 L2139.4,662.7 L2140.9,662.6 L2142.4,662.6 L2143.9,662.6 L2145.4,662.4 L2146.9,662.3 L2148.4,662.5 L2149.9,662.2 L2151.4,662.1 L2152.9,663.0 L2154.4,662.4 L2155.9,662.5 L2157.4,662.5 L2158.9,662.6 L2160.4,662.6 L2161.9,662.6 L2163.4,662.3 L2164.9,663.0 L2166.4,662.4 L2167.9,663.0 L2169.4,662.0 L2170.9,662.3 L2172.4,663.1 L2173.9,662.7 L2175.4,662.6 L2176.9,663.0 L2178.4,662.5 L2179.9,662.9 L2181.4,662.1 L2182.9,662.8 L2184.4,662.8 L2185.9,663.2 L2187.4,663.4 L2188.9,662.8 L2190.4,663.7 L2191.9,663.0 L2193.4,662.5 L2194.9,662.4 L2196.4,663.8 L2197.9,663.3 L2199.4,663.1 L2200.9,663.1 L2202.4,663.0 L2203.9,663.9 L2205.4,663.5 L2206.9,664.2 L2208.4,663.5 L2209.9,662.8 L2211.4,664.0 L2212.9,663.6 L2214.4,663.7 L2215.9,664.3 L2217.4,663.7 L2218.9,664.3 L2220.4,663.9 L2221.9,663.7 L2223.4,664.2 L2224.9,663.8 L2226.4,664.5 L2227.9,664.4 L2229.4,664.1 L2230.9,664.4 L2232.4,664.4 L2233.9,664.1 L2235.4,664.6 L2236.9,664.2 L2238.4,664.5 L2240.0,664.0 L2241.5,664.4 L2243.0,664.5 L2244.5,664.1 L2246.0,664.3 L2247.5,664.3 L2249.0,664.7 L2250.5,664.3 L2252.0,664.7 L2253.5,665.1 L2255.0,664.7 L2256.5,664.0 L2258.0,664.7 L2259.5,665.0 L2261.0,664.5 L2262.5,665.1 L2264.0,664.9 L2265.5,664.9 L2267.0,664.6 L2268.5,664.6 L2270.0,664.7 L2271.5,664.8 L2273.0,665.0 L2274.5,665.0 L2276.0,664.7 L2277.5,664.9 L2279.0,665.0 L2280.5,664.3 L2282.0,664.6 L2283.5,664.6 L2285.0,664.9 L2286.5,664.9 L2288.0,664.9 L2289.5,664.7 L2291.0,665.2 L2292.5,665.1 L2294.0,664.5 L2295.5,665.1 L2297.0,664.7 L2298.5,665.7 L2300.0,664.9 L2301.5,665.0 L2303.0,665.2 L2304.5,665.1 L2306.0,665.2 L2307.5,665.7 L2309.0,665.3 L2310.5,665.5 L2312.0,665.6 L2313.5,664.9 L2315.0,665.8 L2316.5,665.5 L2318.0,665.6 L2319.5,665.0 L2321.0,665.6 L2322.5,665.5 L2324.0,665.1 L2325.5,666.1 L2327.0,665.6 L2328.5,665.3 L2330.0,665.5 L2331.5,665.7 L2333.0,665.8 L2334.5,665.6 L2336.0,665.9 L2337.5,666.0 L2339.0,665.0 L2340.5,665.3 L2342.0,665.1 L2343.5,665.5 L2345.0,666.0 L2346.5,665.7 L2348.0,665.1" fill="none" stroke="#000" stroke-width="6.6" stroke-linejoin="round" stroke-linecap="round"/>

<!-- reference patterns -->
<line x1="181" y1="1191.9" x2="2348" y2="1191.9" stroke="#a01818" stroke-width="2.4"/>
<line x1="254.4" y1="1126.0" x2="254.4" y2="1191.9" stroke="#d81818" stroke-width="3.0" />
<line x1="660.6" y1="903.8" x2="660.6" y2="1191.9" stroke="#d81818" stroke-width="3.2" />
<line x1="181" y1="1483.2" x2="2348" y2="1483.2" stroke="#000" stroke-width="3.2"/>
<line x1="597.2" y1="1415.2" x2="597.2" y2="1483.2" stroke="#000" stroke-width="2.6" />
<line x1="912.8" y1="1435.3" x2="912.8" y2="1483.2" stroke="#000" stroke-width="5.0" />
<line x1="1210" y1="1445.2" x2="1210" y2="1483.2" stroke="#000" stroke-width="4.6" />
<line x1="1368.6" y1="1443" x2="1368.6" y2="1483.2" stroke="#000" stroke-width="2.6" />
<line x1="1613.6" y1="1458" x2="1613.6" y2="1486.7" stroke="#000" stroke-width="2.6" />

<text id="lbl_blue" transform="translate(2048.80,183.50) scale(1,0.9762)" font-size="57.86" font-weight="bold" fill="#0000e6">TiO<tspan font-size="39.92" dy="15.33">2</tspan><tspan dy="-15.33"> QDs</tspan></text>
<text id="lbl_red" transform="translate(2113.18,539.16) scale(1,1.0201)" font-size="56.26" font-weight="bold" fill="#e60000">g-C<tspan font-size="38.82" dy="14.91">3</tspan><tspan dy="-14.91">N</tspan><tspan font-size="38.82" dy="14.91">4</tspan></text>
<text id="lbl_blk" transform="translate(1841.89,748.51) scale(1,0.9645)" font-size="56.48" font-weight="bold" fill="#000">TiO<tspan font-size="38.97" dy="14.97">2</tspan><tspan dy="-14.97"> QDs@g-C</tspan><tspan font-size="38.97" dy="14.97">3</tspan><tspan dy="-14.97">N</tspan><tspan font-size="38.97" dy="14.97">4</tspan></text>
<text id="ref_gcn" transform="translate(1341.39,1156.42) scale(1,0.9929)" font-size="48.75" font-weight="bold" fill="#000">Graphitic carbon nitride (PDF 00-066-0813)</text>
<text id="ref_ana" transform="translate(1593.40,1540.16) scale(1,0.9768)" font-size="48.83" font-weight="bold" fill="#000">Anatase TiO<tspan font-size="33.69" dy="12.94">2</tspan><tspan dy="-12.94"> (PDF 01-071-1166)</tspan></text>
<text id="pk_101" transform="translate(553.03,119.91) scale(1,1.0117)" font-size="45.54" fill="#1414c0">(101)</text>
<text id="pk_004" transform="translate(900.36,162.09) scale(1,1.0136)" font-size="45.14" fill="#1414c0">(004)</text>
<text id="pk_200" transform="translate(1171.73,167.72) scale(1,0.9368)" font-size="45.59" fill="#1414c0">(200)</text>
<text id="pk_105" transform="translate(1341.69,169.60) scale(1,0.9977)" font-size="46.18" fill="#1414c0">(105)</text>
<text id="pk_224" transform="translate(1558.55,174.60) scale(1,0.9879)" font-size="46.64" fill="#1414c0">(224)</text>
<text id="pk_100" transform="translate(221.03,447.31) scale(1,1.0117)" font-size="45.54" fill="#c81414">(100)</text>
<text id="pk_002" transform="translate(688.00,314.15) scale(1,0.9762)" font-size="46.00" fill="#c81414">(002)</text>
<text id="st_100" transform="translate(267.12,1110.37) rotate(-90) scale(1,1.0107)" font-size="41.35" font-weight="bold" fill="#000">(100)</text>
<text id="st_002" transform="translate(674.60,887.44) rotate(-90) scale(1,0.9918)" font-size="40.81" font-weight="bold" fill="#000">(002)</text>
<text id="st_101" transform="translate(612.82,1404.31) rotate(-90) scale(1,0.9682)" font-size="42.25" font-weight="bold" fill="#000">(101)</text>
<text id="st_004" transform="translate(930.40,1422.05) rotate(-90) scale(1,0.9752)" font-size="40.95" font-weight="bold" fill="#000">(004)</text>
<text id="st_200" transform="translate(1221.82,1434.44) rotate(-90) scale(1,1.0022)" font-size="40.81" font-weight="bold" fill="#000">(200)</text>
<text id="st_105" transform="translate(1381.88,1435.43) rotate(-90) scale(1,1.0251)" font-size="40.54" font-weight="bold" fill="#000">(105)</text>
<text id="st_224" transform="translate(1628.59,1447.23) rotate(-90) scale(1,0.9742)" font-size="40.54" font-weight="bold" fill="#000">(224)</text>
<text id="ylabel" transform="translate(98.81,1191.61) rotate(-90) scale(1,0.9930)" font-size="97.65" font-weight="bold" fill="#000">Intensity (a.u.)</text>

<!-- frame -->
<rect x="176" y="26.25" width="2177.3" height="1603.6" fill="none" stroke="#000" stroke-width="10.5"/>
<g stroke="#000" stroke-width="10.5">
<line x1="176" y1="1630" x2="176" y2="1660"/>
<line x1="2353.3" y1="1630" x2="2353.3" y2="1660"/>
<line x1="230.4" y1="1630" x2="230.4" y2="1644.8" />
<line x1="284.9" y1="1630" x2="284.9" y2="1644.8" />
<line x1="339.3" y1="1630" x2="339.3" y2="1644.8" />
<line x1="393.7" y1="1630" x2="393.7" y2="1644.8" />
<line x1="448.2" y1="1630" x2="448.2" y2="1660" />
<line x1="502.6" y1="1630" x2="502.6" y2="1644.8" />
<line x1="557.0" y1="1630" x2="557.0" y2="1644.8" />
<line x1="611.5" y1="1630" x2="611.5" y2="1644.8" />
<line x1="665.9" y1="1630" x2="665.9" y2="1644.8" />
<line x1="720.3" y1="1630" x2="720.3" y2="1660" />
<line x1="774.8" y1="1630" x2="774.8" y2="1644.8" />
<line x1="829.2" y1="1630" x2="829.2" y2="1644.8" />
<line x1="883.6" y1="1630" x2="883.6" y2="1644.8" />
<line x1="938.1" y1="1630" x2="938.1" y2="1644.8" />
<line x1="992.5" y1="1630" x2="992.5" y2="1660" />
<line x1="1046.9" y1="1630" x2="1046.9" y2="1644.8" />
<line x1="1101.4" y1="1630" x2="1101.4" y2="1644.8" />
<line x1="1155.8" y1="1630" x2="1155.8" y2="1644.8" />
<line x1="1210.2" y1="1630" x2="1210.2" y2="1644.8" />
<line x1="1264.7" y1="1630" x2="1264.7" y2="1660" />
<line x1="1319.1" y1="1630" x2="1319.1" y2="1644.8" />
<line x1="1373.5" y1="1630" x2="1373.5" y2="1644.8" />
<line x1="1427.9" y1="1630" x2="1427.9" y2="1644.8" />
<line x1="1482.4" y1="1630" x2="1482.4" y2="1644.8" />
<line x1="1536.8" y1="1630" x2="1536.8" y2="1660" />
<line x1="1591.2" y1="1630" x2="1591.2" y2="1644.8" />
<line x1="1645.7" y1="1630" x2="1645.7" y2="1644.8" />
<line x1="1700.1" y1="1630" x2="1700.1" y2="1644.8" />
<line x1="1754.5" y1="1630" x2="1754.5" y2="1644.8" />
<line x1="1809.0" y1="1630" x2="1809.0" y2="1660" />
<line x1="1863.4" y1="1630" x2="1863.4" y2="1644.8" />
<line x1="1917.8" y1="1630" x2="1917.8" y2="1644.8" />
<line x1="1972.3" y1="1630" x2="1972.3" y2="1644.8" />
<line x1="2026.7" y1="1630" x2="2026.7" y2="1644.8" />
<line x1="2081.1" y1="1630" x2="2081.1" y2="1660" />
<line x1="2135.6" y1="1630" x2="2135.6" y2="1644.8" />
<line x1="2190.0" y1="1630" x2="2190.0" y2="1644.8" />
<line x1="2244.4" y1="1630" x2="2244.4" y2="1644.8" />
<line x1="2298.9" y1="1630" x2="2298.9" y2="1644.8" />
</g>

<!-- tick labels -->
<g font-size="69" fill="#000" text-anchor="middle">
<text transform="translate(176.0,1736) scale(1,1.035)">10</text>
<text transform="translate(448.2,1736) scale(1,1.035)">20</text>
<text transform="translate(720.3,1736) scale(1,1.035)">30</text>
<text transform="translate(992.5,1736) scale(1,1.035)">40</text>
<text transform="translate(1264.7,1736) scale(1,1.035)">50</text>
<text transform="translate(1536.8,1736) scale(1,1.035)">60</text>
<text transform="translate(1809.0,1736) scale(1,1.035)">70</text>
<text transform="translate(2081.1,1736) scale(1,1.035)">80</text>
<text transform="translate(2353.3,1736) scale(1,1.035)">90</text>
</g>

<!-- axis titles -->
<text x="1217" y="1844.6" font-weight="bold" font-size="100" fill="#000">2</text>
<text transform="translate(1278.5,1846.3) skewX(-9)" style="font-family:'DejaVu Serif',serif" font-style="italic" font-size="88.5" fill="#000">θ</text>
</svg>
</body></html>
